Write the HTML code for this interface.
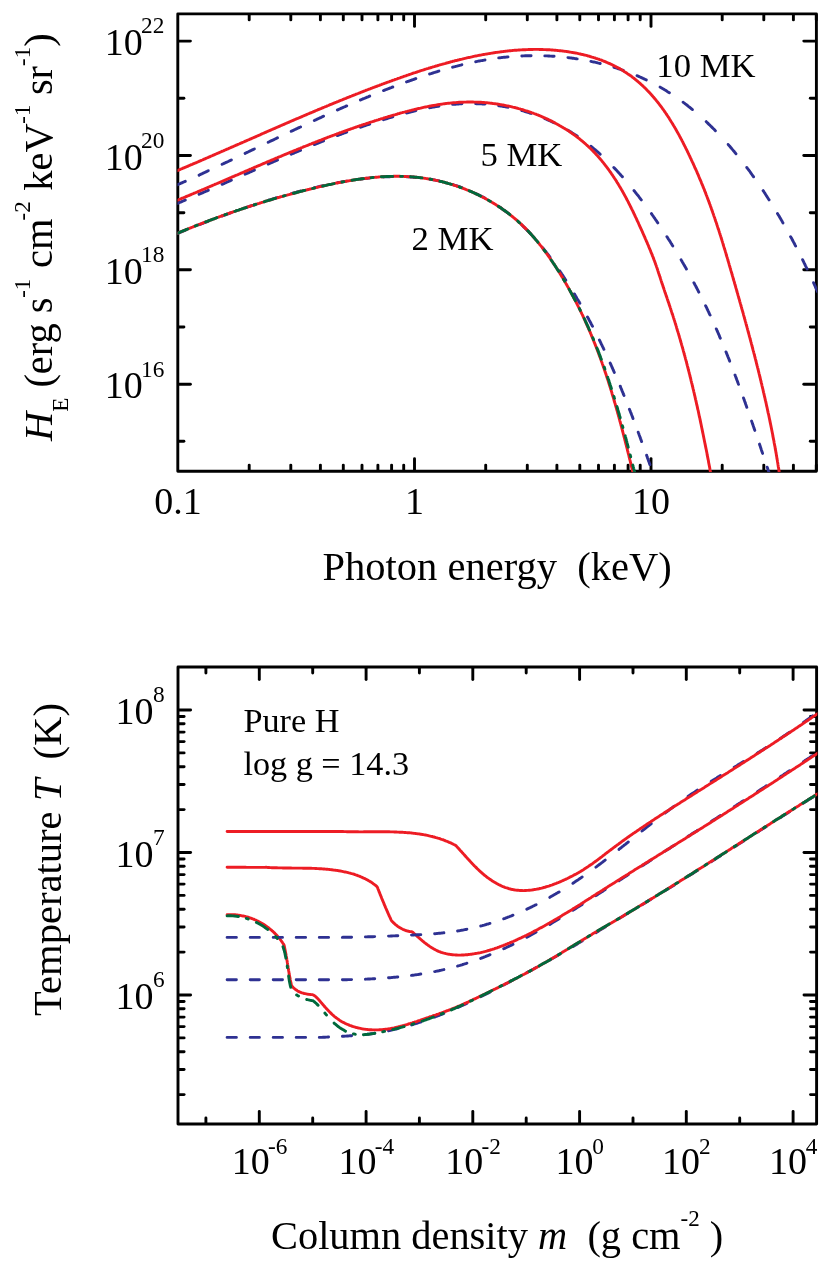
<!DOCTYPE html>
<html><head><meta charset="utf-8"><title>figure</title>
<style>
html,body{margin:0;padding:0;background:#fff;}
body{width:830px;height:1262px;overflow:hidden;}
svg{display:block;position:absolute;left:0;top:0;will-change:transform;}
text{font-family:"Liberation Serif",serif;fill:#000;}
</style></head><body>
<svg width="830" height="1262" viewBox="0 0 830 1262">
<rect x="0" y="0" width="830" height="1262" fill="#fff"/>
<clipPath id="c1"><rect x="177.5" y="13.049999999999999" width="639.6999999999999" height="459.0"/></clipPath>
<rect x="177.8" y="13.85" width="638.5999999999999" height="457.4" fill="none" stroke="#000" stroke-width="2.9" stroke-linejoin="round"/>
<line x1="249.2" y1="470.1" x2="249.2" y2="465.1" stroke="#000" stroke-width="2.9" stroke-linecap="round"/>
<line x1="249.2" y1="15" x2="249.2" y2="19.9" stroke="#000" stroke-width="2.9" stroke-linecap="round"/>
<line x1="290.8" y1="470.1" x2="290.8" y2="465.1" stroke="#000" stroke-width="2.9" stroke-linecap="round"/>
<line x1="290.8" y1="15" x2="290.8" y2="19.9" stroke="#000" stroke-width="2.9" stroke-linecap="round"/>
<line x1="320.4" y1="470.1" x2="320.4" y2="465.1" stroke="#000" stroke-width="2.9" stroke-linecap="round"/>
<line x1="320.4" y1="15" x2="320.4" y2="19.9" stroke="#000" stroke-width="2.9" stroke-linecap="round"/>
<line x1="343.3" y1="470.1" x2="343.3" y2="465.1" stroke="#000" stroke-width="2.9" stroke-linecap="round"/>
<line x1="343.3" y1="15" x2="343.3" y2="19.9" stroke="#000" stroke-width="2.9" stroke-linecap="round"/>
<line x1="362" y1="470.1" x2="362" y2="465.1" stroke="#000" stroke-width="2.9" stroke-linecap="round"/>
<line x1="362" y1="15" x2="362" y2="19.9" stroke="#000" stroke-width="2.9" stroke-linecap="round"/>
<line x1="377.9" y1="470.1" x2="377.9" y2="465.1" stroke="#000" stroke-width="2.9" stroke-linecap="round"/>
<line x1="377.9" y1="15" x2="377.9" y2="19.9" stroke="#000" stroke-width="2.9" stroke-linecap="round"/>
<line x1="391.6" y1="470.1" x2="391.6" y2="465.1" stroke="#000" stroke-width="2.9" stroke-linecap="round"/>
<line x1="391.6" y1="15" x2="391.6" y2="19.9" stroke="#000" stroke-width="2.9" stroke-linecap="round"/>
<line x1="403.7" y1="470.1" x2="403.7" y2="465.1" stroke="#000" stroke-width="2.9" stroke-linecap="round"/>
<line x1="403.7" y1="15" x2="403.7" y2="19.9" stroke="#000" stroke-width="2.9" stroke-linecap="round"/>
<line x1="414.5" y1="470.1" x2="414.5" y2="458.6" stroke="#000" stroke-width="2.9" stroke-linecap="round"/>
<line x1="414.5" y1="15" x2="414.5" y2="26.4" stroke="#000" stroke-width="2.9" stroke-linecap="round"/>
<line x1="485.7" y1="470.1" x2="485.7" y2="465.1" stroke="#000" stroke-width="2.9" stroke-linecap="round"/>
<line x1="485.7" y1="15" x2="485.7" y2="19.9" stroke="#000" stroke-width="2.9" stroke-linecap="round"/>
<line x1="527.3" y1="470.1" x2="527.3" y2="465.1" stroke="#000" stroke-width="2.9" stroke-linecap="round"/>
<line x1="527.3" y1="15" x2="527.3" y2="19.9" stroke="#000" stroke-width="2.9" stroke-linecap="round"/>
<line x1="556.9" y1="470.1" x2="556.9" y2="465.1" stroke="#000" stroke-width="2.9" stroke-linecap="round"/>
<line x1="556.9" y1="15" x2="556.9" y2="19.9" stroke="#000" stroke-width="2.9" stroke-linecap="round"/>
<line x1="579.8" y1="470.1" x2="579.8" y2="465.1" stroke="#000" stroke-width="2.9" stroke-linecap="round"/>
<line x1="579.8" y1="15" x2="579.8" y2="19.9" stroke="#000" stroke-width="2.9" stroke-linecap="round"/>
<line x1="598.5" y1="470.1" x2="598.5" y2="465.1" stroke="#000" stroke-width="2.9" stroke-linecap="round"/>
<line x1="598.5" y1="15" x2="598.5" y2="19.9" stroke="#000" stroke-width="2.9" stroke-linecap="round"/>
<line x1="614.4" y1="470.1" x2="614.4" y2="465.1" stroke="#000" stroke-width="2.9" stroke-linecap="round"/>
<line x1="614.4" y1="15" x2="614.4" y2="19.9" stroke="#000" stroke-width="2.9" stroke-linecap="round"/>
<line x1="628.1" y1="470.1" x2="628.1" y2="465.1" stroke="#000" stroke-width="2.9" stroke-linecap="round"/>
<line x1="628.1" y1="15" x2="628.1" y2="19.9" stroke="#000" stroke-width="2.9" stroke-linecap="round"/>
<line x1="640.2" y1="470.1" x2="640.2" y2="465.1" stroke="#000" stroke-width="2.9" stroke-linecap="round"/>
<line x1="640.2" y1="15" x2="640.2" y2="19.9" stroke="#000" stroke-width="2.9" stroke-linecap="round"/>
<line x1="651" y1="470.1" x2="651" y2="458.6" stroke="#000" stroke-width="2.9" stroke-linecap="round"/>
<line x1="651" y1="15" x2="651" y2="26.4" stroke="#000" stroke-width="2.9" stroke-linecap="round"/>
<line x1="722.2" y1="470.1" x2="722.2" y2="465.1" stroke="#000" stroke-width="2.9" stroke-linecap="round"/>
<line x1="722.2" y1="15" x2="722.2" y2="19.9" stroke="#000" stroke-width="2.9" stroke-linecap="round"/>
<line x1="763.8" y1="470.1" x2="763.8" y2="465.1" stroke="#000" stroke-width="2.9" stroke-linecap="round"/>
<line x1="763.8" y1="15" x2="763.8" y2="19.9" stroke="#000" stroke-width="2.9" stroke-linecap="round"/>
<line x1="793.4" y1="470.1" x2="793.4" y2="465.1" stroke="#000" stroke-width="2.9" stroke-linecap="round"/>
<line x1="793.4" y1="15" x2="793.4" y2="19.9" stroke="#000" stroke-width="2.9" stroke-linecap="round"/>
<line x1="816.3" y1="470.1" x2="816.3" y2="465.1" stroke="#000" stroke-width="2.9" stroke-linecap="round"/>
<line x1="816.3" y1="15" x2="816.3" y2="19.9" stroke="#000" stroke-width="2.9" stroke-linecap="round"/>
<line x1="179" y1="441.3" x2="183.9" y2="441.3" stroke="#000" stroke-width="2.9" stroke-linecap="round"/>
<line x1="815.2" y1="441.3" x2="810.3" y2="441.3" stroke="#000" stroke-width="2.9" stroke-linecap="round"/>
<line x1="179" y1="384.2" x2="190.4" y2="384.2" stroke="#000" stroke-width="2.9" stroke-linecap="round"/>
<line x1="815.2" y1="384.2" x2="803.8" y2="384.2" stroke="#000" stroke-width="2.9" stroke-linecap="round"/>
<line x1="179" y1="327" x2="183.9" y2="327" stroke="#000" stroke-width="2.9" stroke-linecap="round"/>
<line x1="815.2" y1="327" x2="810.3" y2="327" stroke="#000" stroke-width="2.9" stroke-linecap="round"/>
<line x1="179" y1="269.8" x2="190.4" y2="269.8" stroke="#000" stroke-width="2.9" stroke-linecap="round"/>
<line x1="815.2" y1="269.8" x2="803.8" y2="269.8" stroke="#000" stroke-width="2.9" stroke-linecap="round"/>
<line x1="179" y1="212.7" x2="183.9" y2="212.7" stroke="#000" stroke-width="2.9" stroke-linecap="round"/>
<line x1="815.2" y1="212.7" x2="810.3" y2="212.7" stroke="#000" stroke-width="2.9" stroke-linecap="round"/>
<line x1="179" y1="155.5" x2="190.4" y2="155.5" stroke="#000" stroke-width="2.9" stroke-linecap="round"/>
<line x1="815.2" y1="155.5" x2="803.8" y2="155.5" stroke="#000" stroke-width="2.9" stroke-linecap="round"/>
<line x1="179" y1="98.3" x2="183.9" y2="98.3" stroke="#000" stroke-width="2.9" stroke-linecap="round"/>
<line x1="815.2" y1="98.3" x2="810.3" y2="98.3" stroke="#000" stroke-width="2.9" stroke-linecap="round"/>
<line x1="179" y1="41.1" x2="190.4" y2="41.1" stroke="#000" stroke-width="2.9" stroke-linecap="round"/>
<line x1="815.2" y1="41.1" x2="803.8" y2="41.1" stroke="#000" stroke-width="2.9" stroke-linecap="round"/>
<path d="M160 240.6 L160.8 240.2 L161.8 239.8 L162.2 239.6 M176 233.9 L176.7 233.6 L177.7 233.3 L178.6 232.9 L179.5 232.5 L180.5 232.1 L181.4 231.8 L182.3 231.4 L183.3 231 L184.2 230.6 L185.1 230.2 L185.3 230.2 M199.1 224.7 L199.1 224.7 L200.1 224.3 L201 224 L201.9 223.6 L202.8 223.3 L203.8 222.9 L204.7 222.5 L205.6 222.2 L206.6 221.8 L207.5 221.5 L208.3 221.1 M222.1 216 L222.4 215.9 L223.4 215.5 L224.3 215.2 L225.2 214.8 L226.2 214.5 L227.1 214.2 L228 213.8 L229 213.5 L229.9 213.1 L230.8 212.8 L231.4 212.6 M245.1 207.8 L245.8 207.6 L246.8 207.3 L247.7 206.9 L248.7 206.6 L249.6 206.3 L250.5 206 L251.5 205.7 L252.4 205.4 L253.4 205.1 L254.3 204.8 L254.4 204.7 M268.2 200.3 L268.5 200.2 L269.4 199.9 L270.4 199.7 L271.4 199.4 L272.3 199.1 L273.3 198.8 L274.2 198.5 L275.2 198.2 L276.1 197.9 L277.1 197.7 L277.5 197.5 M291.2 193.6 L291.5 193.6 L292.4 193.3 L293.4 193 L294.3 192.8 L295.3 192.5 L296.3 192.3 L297.2 192 L298.2 191.7 L299.2 191.5 L300.2 191.2 L300.6 191.1 M314.3 187.7 L314.8 187.6 L315.8 187.4 L316.8 187.2 L317.7 186.9 L318.7 186.7 L319.7 186.5 L320.7 186.2 L321.7 186 L322.7 185.8 L323.6 185.6 M337.4 182.8 L337.5 182.7 L338.5 182.5 L339.5 182.4 L340.5 182.2 L341.5 182 L342.5 181.8 L343.5 181.6 L344.5 181.5 L345.5 181.3 L346.5 181.1 L346.7 181.1 M360.4 179 L360.6 179 L361.6 178.9 L362.6 178.8 L363.6 178.6 L364.6 178.5 L365.6 178.4 L366.6 178.3 L367.6 178.2 L368.6 178.1 L369.6 178 L369.7 178 M383.5 176.9 L383.7 176.9 L384.7 176.8 L385.7 176.8 L386.7 176.8 L387.7 176.7 L388.7 176.7 L389.7 176.7 L390.7 176.6 L391.7 176.6 L392.7 176.6 L392.8 176.6 M406.5 176.8 L406.6 176.8 L407.6 176.8 L408.6 176.9 L409.6 176.9 L410.6 177 L411.6 177.1 L412.6 177.1 L413.6 177.2 L414.6 177.3 L415.6 177.4 L415.8 177.4 M429.6 179.1 L430.3 179.2 L431.3 179.4 L432.3 179.6 L433.2 179.7 L434.2 179.9 L435.2 180.1 L436.2 180.3 L437.1 180.5 L438.1 180.7 L438.9 180.9 M452.6 184.5 L453.5 184.8 L454.4 185.1 L455.4 185.4 L456.3 185.7 L457.3 186 L458.2 186.3 L459.1 186.7 L460.1 187 L461 187.3 L461.9 187.7 M475.7 193.5 L475.8 193.5 L476.7 194 L477.6 194.4 L478.5 194.8 L479.4 195.3 L480.3 195.7 L481.2 196.2 L482 196.6 L482.9 197.1 L483.8 197.6 L484.7 198.1 L485 198.2 M498.7 206.5 L499.3 206.9 L500.1 207.5 L500.9 208 L501.7 208.6 L502.5 209.2 L503.4 209.8 L504.2 210.3 L505 210.9 L505.8 211.5 L506.6 212.1 L507.4 212.7 L508 213.2 M521.8 224.9 L521.8 225 L522.6 225.7 L523.3 226.4 L524 227.1 L524.7 227.8 L525.4 228.5 L526.1 229.2 L526.8 229.9 L527.5 230.6 L528.2 231.3 L528.9 232 L529.6 232.7 L530.3 233.5 L530.9 234.1 M542.8 247.8 L543.4 248.6 L544 249.4 L544.6 250.2 L545.2 250.9 L545.9 251.7 L546.5 252.5 L547.1 253.3 L547.7 254.1 L548.3 254.9 L548.9 255.7 L549.5 256.5 L550 257.1 M559.7 270.9 L560 271.3 L560.5 272.1 L561.1 272.9 L561.6 273.8 L562.2 274.6 L562.7 275.4 L563.3 276.3 L563.8 277.1 L564.4 277.9 L564.9 278.8 L565.5 279.6 L565.8 280.2 M574.4 293.9 L574.5 294.1 L575 294.9 L575.5 295.8 L576 296.6 L576.5 297.5 L577 298.4 L577.5 299.2 L578.1 300.1 L578.6 301 L579.1 301.8 L579.6 302.7 L579.9 303.2 M587.5 317 L587.8 317.5 L588.3 318.4 L588.8 319.3 L589.2 320.2 L589.7 321 L590.2 321.9 L590.7 322.8 L591.1 323.7 L591.6 324.6 L592 325.5 L592.5 326.3 M599.4 340 L599.7 340.6 L600.1 341.5 L600.6 342.4 L601 343.3 L601.4 344.2 L601.9 345.1 L602.3 346 L602.7 346.9 L603.2 347.8 L603.6 348.7 L603.9 349.3 M610.2 363.1 L610.3 363.3 L610.7 364.2 L611.1 365.1 L611.5 366 L611.9 366.9 L612.3 367.8 L612.7 368.7 L613.1 369.7 L613.5 370.6 L613.9 371.5 L614.3 372.4 M620.2 386.1 L620.2 386.2 L620.6 387.1 L621 388.1 L621.4 389 L621.7 389.9 L622.1 390.9 L622.5 391.8 L622.9 392.7 L623.2 393.6 L623.6 394.6 L624 395.4 M629.4 409.2 L629.5 409.4 L629.9 410.4 L630.3 411.3 L630.6 412.2 L631 413.2 L631.4 414.1 L631.7 415 L632.1 416 L632.4 416.9 L632.8 417.8 L633 418.5 M638.2 432.2 L638.4 432.8 L638.8 433.8 L639.1 434.7 L639.5 435.7 L639.8 436.6 L640.2 437.5 L640.5 438.5 L640.8 439.4 L641.2 440.4 L641.5 441.3 L641.6 441.5 M646.6 455.3 L646.6 455.4 L647 456.3 L647.3 457.3 L647.6 458.2 L648 459.2 L648.3 460.1 L648.6 461.1 L649 462 L649.3 462.9 L649.6 463.9 L649.9 464.6 M654.7 478.3 L654.9 478.9 L655 480" fill="none" stroke="#2e3192" stroke-width="2.9" stroke-linejoin="round" stroke-linecap="round" clip-path="url(#c1)"/>
<path d="M160 240.6 L160.9 240.3 L161.8 239.9 L162.7 239.5 L163.7 239.1 L164.6 238.7 L165.5 238.3 L166.5 237.9 L167.4 237.5 L168.3 237.1 L169.3 236.7 L170.2 236.3 L171.1 235.9 L172 235.5 L173 235.1 L173.9 234.7 L174.8 234.3 L175.8 233.9 L176.7 233.5 L177.6 233.2 L178.6 232.8 L179.5 232.4 L180.4 232 L181.3 231.6 L182.3 231.2 L183.2 230.8 L184.1 230.5 L185.1 230.1 L186 229.7 L186.9 229.3 L187.9 228.9 L188.8 228.6 L189.7 228.2 L190.7 227.8 L191.6 227.4 L192.5 227.1 L193.5 226.7 L194.4 226.3 L195.3 226 L196.2 225.6 L197.2 225.2 L198.1 224.9 L199 224.5 L200 224.1 L200.9 223.8 L201.8 223.4 L202.8 223 L203.7 222.7 L204.6 222.3 L205.6 222 L206.5 221.6 L207.4 221.3 L208.4 220.9 L209.3 220.5 L210.2 220.2 L211.2 219.8 L212.1 219.5 L213 219.1 L214 218.8 L214.9 218.4 L215.8 218.1 L216.8 217.7 L217.7 217.4 L218.7 217.1 L219.6 216.7 L220.5 216.4 L221.5 216 L222.4 215.7 L223.3 215.4 L224.3 215 L225.2 214.7 L226.1 214.3 L227.1 214 L228 213.7 L229 213.3 L229.9 213 L230.8 212.7 L231.8 212.4 L232.7 212 L233.7 211.7 L234.6 211.4 L235.5 211.1 L236.5 210.7 L237.4 210.4 L238.4 210.1 L239.3 209.8 L240.2 209.4 L241.2 209.1 L242.1 208.8 L243.1 208.5 L244 208.2 L245 207.9 L245.9 207.6 L246.8 207.2 L247.8 206.9 L248.7 206.6 L249.7 206.3 L250.6 206 L251.6 205.7 L252.5 205.4 L253.5 205.1 L254.4 204.8 L255.4 204.5 L256.3 204.2 L257.3 203.9 L258.2 203.6 L259.2 203.3 L260.1 203 L261.1 202.7 L262 202.4 L263 202.1 L263.9 201.8 L264.9 201.5 L265.8 201.2 L266.8 200.9 L267.7 200.6 L268.7 200.4 L269.6 200.1 L270.6 199.8 L271.5 199.5 L272.5 199.2 L273.4 198.9 L274.4 198.7 L275.4 198.4 L276.3 198.1 L277.3 197.8 L278.2 197.5 L279.2 197.3 L280.1 197 L281.1 196.7 L282.1 196.5 L283 196.2 L284 195.9 L284.9 195.6 L285.9 195.4 L286.9 195.1 L287.8 194.8 L288.8 194.6 L289.8 194.3 L290.7 194.1 L291.7 193.8 L292.7 193.5 L293.6 193.3 L294.6 193 L295.6 192.8 L296.5 192.5 L297.5 192.2 L298.5 192 L299.4 191.7 L300.4 191.5 L301.4 191.2 L302.4 191 L303.3 190.7 L304.3 190.5 L305.3 190.3 L306.2 190 L307.2 189.8 L308.2 189.5 L309.2 189.3 L310.2 189 L311.1 188.8 L312.1 188.6 L313.1 188.3 L314.1 188.1 L315 187.9 L316 187.6 L317 187.4 L318 187.2 L319 186.9 L320 186.7 L320.9 186.5 L321.9 186.2 L322.9 186 L323.9 185.8 L324.9 185.6 L325.9 185.4 L326.9 185.1 L327.8 184.9 L328.8 184.7 L329.8 184.5 L330.8 184.3 L331.8 184.1 L332.8 183.9 L333.8 183.7 L334.8 183.4 L335.8 183.2 L336.8 183 L337.8 182.8 L338.7 182.7 L339.7 182.5 L340.7 182.3 L341.7 182.1 L342.7 181.9 L343.7 181.7 L344.7 181.5 L345.7 181.3 L346.7 181.2 L347.7 181 L348.7 180.8 L349.7 180.6 L350.7 180.5 L351.7 180.3 L352.7 180.2 L353.7 180 L354.7 179.8 L355.7 179.7 L356.7 179.5 L357.7 179.4 L358.7 179.2 L359.7 179.1 L360.7 179 L361.7 178.8 L362.7 178.7 L363.7 178.6 L364.7 178.4 L365.7 178.3 L366.7 178.2 L367.7 178.1 L368.7 178 L369.7 177.8 L370.7 177.7 L371.7 177.6 L372.7 177.5 L373.7 177.4 L374.7 177.4 L375.7 177.3 L376.7 177.2 L377.7 177.1 L378.7 177 L379.7 176.9 L380.7 176.9 L381.7 176.8 L382.7 176.7 L383.7 176.7 L384.7 176.6 L385.7 176.6 L386.7 176.5 L387.7 176.5 L388.7 176.5 L389.7 176.4 L390.7 176.4 L391.7 176.4 L392.7 176.4 L393.7 176.3 L394.7 176.3 L395.7 176.3 L396.7 176.3 L397.7 176.3 L398.7 176.3 L399.7 176.3 L400.7 176.4 L401.6 176.4 L402.6 176.4 L403.6 176.4 L404.6 176.5 L405.6 176.5 L406.6 176.6 L407.6 176.6 L408.6 176.7 L409.6 176.7 L410.6 176.8 L411.6 176.9 L412.6 176.9 L413.6 177 L414.6 177.1 L415.6 177.2 L416.6 177.3 L417.5 177.4 L418.5 177.5 L419.5 177.6 L420.5 177.7 L421.5 177.9 L422.5 178 L423.5 178.1 L424.5 178.3 L425.4 178.4 L426.4 178.6 L427.4 178.7 L428.4 178.9 L429.4 179.1 L430.4 179.2 L431.3 179.4 L432.3 179.6 L433.3 179.8 L434.3 180 L435.3 180.2 L436.2 180.4 L437.2 180.6 L438.2 180.8 L439.2 181 L440.1 181.3 L441.1 181.5 L442.1 181.7 L443 182 L444 182.2 L445 182.5 L445.9 182.8 L446.9 183 L447.9 183.3 L448.8 183.6 L449.8 183.8 L450.7 184.1 L451.7 184.4 L452.7 184.7 L453.6 185 L454.6 185.3 L455.5 185.6 L456.5 186 L457.4 186.3 L458.4 186.6 L459.3 186.9 L460.2 187.3 L461.2 187.6 L462.1 188 L463.1 188.3 L464 188.7 L464.9 189 L465.8 189.4 L466.8 189.8 L467.7 190.1 L468.6 190.5 L469.5 190.9 L470.5 191.3 L471.4 191.7 L472.3 192.1 L473.2 192.5 L474.1 192.9 L475 193.3 L475.9 193.8 L476.8 194.2 L477.7 194.6 L478.6 195.1 L479.5 195.5 L480.4 196 L481.3 196.4 L482.2 196.9 L483.1 197.3 L484 197.8 L484.9 198.3 L485.7 198.7 L486.6 199.2 L487.5 199.7 L488.4 200.2 L489.2 200.7 L490.1 201.2 L491 201.7 L491.8 202.2 L492.7 202.7 L493.5 203.2 L494.4 203.8 L495.2 204.3 L496.1 204.8 L496.9 205.4 L497.8 205.9 L498.6 206.5 L499.4 207 L500.3 207.6 L501.1 208.1 L501.9 208.7 L502.7 209.3 L503.5 209.9 L504.4 210.4 L505.2 211 L506 211.6 L506.8 212.2 L507.6 212.8 L508.4 213.4 L509.2 214 L510 214.6 L510.7 215.3 L511.5 215.9 L512.3 216.5 L513.1 217.1 L513.8 217.8 L514.6 218.4 L515.4 219.1 L516.1 219.7 L516.9 220.4 L517.6 221 L518.4 221.7 L519.1 222.4 L519.9 223 L520.6 223.7 L521.4 224.4 L522.1 225.1 L522.8 225.8 L523.5 226.5 L524.2 227.1 L525 227.9 L525.7 228.6 L526.4 229.3 L527.1 230 L527.8 230.7 L528.5 231.4 L529.1 232.2 L529.8 232.9 L530.5 233.6 L531.2 234.4 L531.8 235.1 L532.5 235.9 L533.2 236.6 L533.8 237.4 L534.5 238.1 L535.1 238.9 L535.8 239.7 L536.4 240.4 L537.1 241.2 L537.7 242 L538.4 242.8 L539 243.5 L539.6 244.3 L540.2 245.1 L540.9 245.9 L541.5 246.7 L542.1 247.5 L542.7 248.3 L543.3 249.1 L543.9 249.9 L544.5 250.7 L545.1 251.5 L545.7 252.3 L546.3 253.1 L546.9 253.9 L547.5 254.7 L548.1 255.6 L548.7 256.4 L549.2 257.2 L549.8 258 L550.4 258.9 L551 259.7 L551.5 260.5 L552.1 261.3 L552.7 262.2 L553.2 263 L553.8 263.8 L554.3 264.7 L554.9 265.5 L555.4 266.4 L556 267.2 L556.5 268 L557.1 268.9 L557.6 269.7 L558.1 270.6 L558.7 271.4 L559.2 272.3 L559.7 273.1 L560.3 274 L560.8 274.9 L561.3 275.7 L561.8 276.6 L562.4 277.4 L562.9 278.3 L563.4 279.1 L563.9 280 L564.4 280.9 L564.9 281.7 L565.4 282.6 L565.9 283.5 L566.4 284.3 L566.9 285.2 L567.4 286.1 L567.9 287 L568.4 287.8 L568.9 288.7 L569.4 289.6 L569.8 290.4 L570.3 291.3 L570.8 292.2 L571.3 293.1 L571.8 294 L572.2 294.8 L572.7 295.7 L573.2 296.6 L573.6 297.5 L574.1 298.4 L574.6 299.2 L575 300.1 L575.5 301 L575.9 301.9 L576.4 302.8 L576.9 303.7 L577.3 304.6 L577.8 305.5 L578.2 306.4 L578.6 307.2 L579.1 308.1 L579.5 309 L580 309.9 L580.4 310.8 L580.8 311.7 L581.3 312.6 L581.7 313.5 L582.1 314.4 L582.6 315.3 L583 316.2 L583.4 317.1 L583.8 318 L584.2 318.9 L584.7 319.8 L585.1 320.8 L585.5 321.7 L585.9 322.6 L586.3 323.5 L586.7 324.4 L587.1 325.3 L587.5 326.2 L587.9 327.1 L588.3 328 L588.7 329 L589.1 329.9 L589.5 330.8 L589.9 331.7 L590.3 332.6 L590.7 333.6 L591.1 334.5 L591.4 335.4 L591.8 336.3 L592.2 337.2 L592.6 338.2 L593 339.1 L593.3 340 L593.7 340.9 L594.1 341.9 L594.5 342.8 L594.8 343.7 L595.2 344.6 L595.6 345.6 L595.9 346.5 L596.3 347.4 L596.7 348.4 L597 349.3 L597.4 350.2 L597.7 351.2 L598.1 352.1 L598.4 353 L598.8 354 L599.1 354.9 L599.5 355.9 L599.8 356.8 L600.2 357.7 L600.5 358.7 L600.9 359.6 L601.2 360.6 L601.5 361.5 L601.9 362.4 L602.2 363.4 L602.5 364.3 L602.9 365.3 L603.2 366.2 L603.5 367.2 L603.9 368.1 L604.2 369 L604.5 370 L604.8 370.9 L605.1 371.9 L605.5 372.8 L605.8 373.8 L606.1 374.7 L606.4 375.7 L606.7 376.6 L607 377.6 L607.4 378.5 L607.7 379.5 L608 380.4 L608.3 381.4 L608.6 382.3 L608.9 383.3 L609.2 384.3 L609.5 385.2 L609.8 386.2 L610.1 387.1 L610.4 388.1 L610.7 389 L611 390 L611.3 390.9 L611.6 391.9 L611.9 392.9 L612.1 393.8 L612.4 394.8 L612.7 395.7 L613 396.7 L613.3 397.7 L613.6 398.6 L613.9 399.6 L614.1 400.5 L614.4 401.5 L614.7 402.5 L615 403.4 L615.3 404.4 L615.5 405.4 L615.8 406.3 L616.1 407.3 L616.4 408.2 L616.6 409.2 L616.9 410.2 L617.2 411.1 L617.5 412.1 L617.7 413.1 L618 414 L618.3 415 L618.5 416 L618.8 416.9 L619.1 417.9 L619.3 418.9 L619.6 419.8 L619.8 420.8 L620.1 421.8 L620.4 422.7 L620.6 423.7 L620.9 424.7 L621.1 425.6 L621.4 426.6 L621.7 427.6 L621.9 428.5 L622.2 429.5 L622.4 430.5 L622.7 431.5 L622.9 432.4 L623.2 433.4 L623.4 434.4 L623.7 435.3 L623.9 436.3 L624.2 437.3 L624.4 438.2 L624.7 439.2 L624.9 440.2 L625.2 441.2 L625.4 442.1 L625.7 443.1 L625.9 444.1 L626.2 445 L626.4 446 L626.7 447 L626.9 447.9 L627.2 448.9 L627.4 449.9 L627.6 450.9 L627.9 451.8 L628.1 452.8 L628.4 453.8 L628.6 454.7 L628.9 455.7 L629.1 456.7 L629.3 457.7 L629.6 458.6 L629.8 459.6 L630.1 460.6 L630.3 461.5 L630.5 462.5 L630.8 463.5 L631 464.5 L631.2 465.4 L631.5 466.4 L631.7 467.4 L632 468.3 L632.2 469.3 L632.4 470.3 L632.7 471.3 L632.9 472.2 L633.1 473.2 L633.4 474.2 L633.6 475.1 L633.9 476.1 L634.1 477.1 L634.3 478 L634.6 479 L634.8 480" fill="none" stroke="#ed1c24" stroke-width="2.9" stroke-linejoin="round" stroke-linecap="butt" clip-path="url(#c1)"/>
<path d="M160 210.5 L160.9 210 L161.8 209.7 L162.2 209.5 M176 204 L176.7 203.7 L177.6 203.3 L178.5 202.9 L179.4 202.5 L180.4 202.2 L181.3 201.8 L182.2 201.4 L183.1 201 L184 200.6 L185 200.2 L185.3 200.1 M199.1 194.3 L199.7 194 L200.6 193.6 L201.6 193.2 L202.5 192.8 L203.4 192.4 L204.3 192 L205.2 191.6 L206.1 191.2 L207.1 190.8 L208 190.4 L208.3 190.3 M222.1 184.3 L222.7 184.1 L223.6 183.7 L224.5 183.3 L225.4 182.8 L226.4 182.4 L227.3 182 L228.2 181.6 L229.1 181.2 L230 180.8 L230.9 180.4 L231.4 180.2 M245.1 174.2 L245.6 174 L246.5 173.6 L247.5 173.2 L248.4 172.8 L249.3 172.4 L250.2 172 L251.1 171.6 L252 171.2 L253 170.7 L253.9 170.3 L254.4 170.1 M268.2 164.1 L268.6 163.9 L269.5 163.5 L270.4 163.1 L271.3 162.7 L272.2 162.3 L273.2 161.9 L274.1 161.5 L275 161.1 L275.9 160.7 L276.8 160.3 L277.5 160 M291.2 154.2 L291.6 154 L292.5 153.6 L293.4 153.3 L294.3 152.9 L295.3 152.5 L296.2 152.1 L297.1 151.7 L298 151.3 L299 150.9 L299.9 150.5 L300.6 150.3 M314.3 144.6 L314.7 144.5 L315.6 144.1 L316.6 143.7 L317.5 143.3 L318.4 143 L319.4 142.6 L320.3 142.2 L321.2 141.9 L322.1 141.5 L323.1 141.1 L323.6 140.9 M337.4 135.6 L338 135.3 L338.9 135 L339.9 134.6 L340.8 134.3 L341.7 133.9 L342.7 133.6 L343.6 133.2 L344.6 132.9 L345.5 132.6 L346.4 132.2 L346.7 132.1 M360.4 127.2 L360.6 127.2 L361.5 126.8 L362.5 126.5 L363.4 126.2 L364.4 125.9 L365.3 125.6 L366.2 125.2 L367.2 124.9 L368.1 124.6 L369.1 124.3 L369.7 124.1 M383.5 119.7 L384.3 119.4 L385.3 119.1 L386.2 118.8 L387.2 118.5 L388.2 118.2 L389.1 117.9 L390.1 117.7 L391 117.4 L392 117.1 L392.8 116.9 M406.5 113 L407.4 112.8 L408.4 112.5 L409.4 112.3 L410.3 112 L411.3 111.8 L412.3 111.6 L413.3 111.3 L414.2 111.1 L415.2 110.9 L415.8 110.7 M429.6 107.8 L429.9 107.7 L430.8 107.5 L431.8 107.3 L432.8 107.1 L433.8 107 L434.8 106.8 L435.8 106.6 L436.7 106.5 L437.7 106.3 L438.7 106.2 L438.9 106.1 M452.6 104.4 L453.6 104.3 L454.5 104.2 L455.5 104.2 L456.5 104.1 L457.5 104 L458.5 104 L459.5 103.9 L460.5 103.8 L461.5 103.8 L461.9 103.8 M475.7 103.6 L476.5 103.7 L477.5 103.7 L478.5 103.7 L479.5 103.8 L480.5 103.8 L481.5 103.9 L482.5 104 L483.5 104 L484.5 104.1 L485 104.1 M498.7 105.7 L499.5 105.8 L500.5 106 L501.5 106.1 L502.5 106.3 L503.5 106.5 L504.5 106.6 L505.5 106.8 L506.5 107 L507.5 107.2 L508 107.3 M521.8 110.6 L522.1 110.7 L523.1 110.9 L524.1 111.2 L525 111.5 L526 111.8 L527 112.1 L527.9 112.4 L528.9 112.7 L529.8 113 L530.8 113.3 L531.1 113.4 M544.8 118.6 L544.8 118.6 L545.7 119 L546.7 119.4 L547.6 119.8 L548.5 120.2 L549.4 120.6 L550.3 121 L551.2 121.4 L552.1 121.8 L553 122.3 L553.9 122.7 L554.1 122.8 M567.9 130.2 L567.9 130.3 L568.8 130.8 L569.6 131.3 L570.5 131.8 L571.3 132.3 L572.2 132.9 L573 133.4 L573.8 133.9 L574.7 134.5 L575.5 135 L576.3 135.6 L577.2 136.1 M590.9 146.3 L591.6 146.8 L592.4 147.5 L593.2 148.1 L593.9 148.8 L594.7 149.4 L595.5 150 L596.2 150.7 L597 151.4 L597.8 152 L598.5 152.7 L599.3 153.4 L600 154 L600.2 154.2 M613.8 167.5 L614.4 168.1 L615.1 168.8 L615.8 169.6 L616.5 170.3 L617.2 171 L617.8 171.8 L618.5 172.5 L619.2 173.3 L619.9 174 L620.5 174.7 L621.2 175.5 L621.9 176.2 L622.4 176.8 M634 190.6 L634.1 190.7 L634.8 191.5 L635.4 192.3 L636 193.1 L636.6 193.9 L637.3 194.7 L637.9 195.4 L638.5 196.2 L639.1 197 L639.7 197.8 L640.3 198.6 L640.9 199.4 L641.3 199.9 M651.4 213.6 L651.5 213.9 L652.1 214.7 L652.7 215.5 L653.3 216.3 L653.8 217.1 L654.4 217.9 L655 218.8 L655.5 219.6 L656.1 220.4 L656.7 221.2 L657.2 222.1 L657.8 222.9 L657.8 222.9 M666.9 236.7 L667.2 237.1 L667.7 237.9 L668.2 238.8 L668.8 239.6 L669.3 240.4 L669.9 241.3 L670.4 242.1 L670.9 243 L671.5 243.8 L672 244.7 L672.5 245.5 L672.8 246 M681.1 259.7 L681.3 260.1 L681.8 261 L682.3 261.9 L682.8 262.7 L683.3 263.6 L683.8 264.5 L684.3 265.3 L684.8 266.2 L685.3 267.1 L685.8 267.9 L686.3 268.8 L686.4 269 M693.9 282.8 L694 282.9 L694.5 283.8 L694.9 284.7 L695.4 285.5 L695.9 286.4 L696.3 287.3 L696.8 288.2 L697.3 289.1 L697.7 290 L698.2 290.9 L698.6 291.8 L698.8 292.1 M705.6 305.8 L705.8 306.1 L706.2 307 L706.7 307.9 L707.1 308.8 L707.5 309.7 L707.9 310.6 L708.4 311.5 L708.8 312.4 L709.2 313.3 L709.6 314.2 L710.1 315.1 M716.3 328.9 L716.7 329.7 L717.1 330.7 L717.5 331.6 L717.9 332.5 L718.3 333.4 L718.7 334.3 L719.1 335.2 L719.4 336.2 L719.8 337.1 L720.2 338 L720.3 338.2 M726 351.9 L726.4 352.8 L726.7 353.7 L727.1 354.6 L727.5 355.5 L727.8 356.5 L728.2 357.4 L728.6 358.3 L729 359.3 L729.3 360.2 L729.7 361.1 L729.7 361.2 M735 375 L735.1 375.1 L735.4 376 L735.8 377 L736.1 377.9 L736.5 378.9 L736.8 379.8 L737.2 380.7 L737.5 381.7 L737.9 382.6 L738.2 383.5 L738.5 384.3 M743.5 398 L743.7 398.6 L744.1 399.5 L744.4 400.5 L744.7 401.4 L745.1 402.3 L745.4 403.3 L745.7 404.2 L746.1 405.2 L746.4 406.1 L746.7 407.1 L746.8 407.3 M751.6 421.1 L751.7 421.2 L752 422.2 L752.3 423.1 L752.6 424.1 L753 425 L753.3 426 L753.6 426.9 L753.9 427.9 L754.3 428.8 L754.6 429.8 L754.8 430.4 M759.5 444.1 L759.7 444.9 L760.1 445.9 L760.4 446.8 L760.7 447.8 L761 448.7 L761.3 449.7 L761.6 450.6 L762 451.6 L762.3 452.5 L762.6 453.4 M767.2 467.2 L767.4 467.7 L767.7 468.6 L768 469.6 L768.3 470.5 L768.7 471.5 L769 472.4 L769.3 473.4 L769.6 474.3 L769.9 475.3 L770.3 476.2 L770.3 476.5" fill="none" stroke="#2e3192" stroke-width="2.9" stroke-linejoin="round" stroke-linecap="round" clip-path="url(#c1)"/>
<path d="M160 207.3 L160.9 206.9 L161.9 206.5 L162.8 206.1 L163.7 205.8 L164.6 205.4 L165.6 205 L166.5 204.7 L167.4 204.3 L168.3 203.9 L169.3 203.5 L170.2 203.2 L171.1 202.8 L172 202.4 L173 202 L173.9 201.7 L174.8 201.3 L175.7 200.9 L176.7 200.5 L177.6 200.1 L178.5 199.8 L179.4 199.4 L180.4 199 L181.3 198.6 L182.2 198.2 L183.1 197.9 L184 197.5 L185 197.1 L185.9 196.7 L186.8 196.3 L187.7 195.9 L188.7 195.6 L189.6 195.2 L190.5 194.8 L191.4 194.4 L192.3 194 L193.3 193.6 L194.2 193.2 L195.1 192.9 L196 192.5 L197 192.1 L197.9 191.7 L198.8 191.3 L199.7 190.9 L200.6 190.5 L201.6 190.1 L202.5 189.7 L203.4 189.4 L204.3 189 L205.2 188.6 L206.2 188.2 L207.1 187.8 L208 187.4 L208.9 187 L209.8 186.6 L210.8 186.2 L211.7 185.8 L212.6 185.4 L213.5 185 L214.5 184.6 L215.4 184.2 L216.3 183.9 L217.2 183.5 L218.1 183.1 L219.1 182.7 L220 182.3 L220.9 181.9 L221.8 181.5 L222.7 181.1 L223.7 180.7 L224.6 180.3 L225.5 179.9 L226.4 179.5 L227.3 179.1 L228.3 178.7 L229.2 178.3 L230.1 177.9 L231 177.5 L231.9 177.1 L232.8 176.7 L233.8 176.3 L234.7 175.9 L235.6 175.5 L236.5 175.1 L237.4 174.8 L238.4 174.4 L239.3 174 L240.2 173.6 L241.1 173.2 L242 172.8 L243 172.4 L243.9 172 L244.8 171.6 L245.7 171.2 L246.6 170.8 L247.6 170.4 L248.5 170 L249.4 169.6 L250.3 169.2 L251.3 168.8 L252.2 168.4 L253.1 168 L254 167.6 L254.9 167.2 L255.9 166.8 L256.8 166.4 L257.7 166 L258.6 165.7 L259.5 165.3 L260.5 164.9 L261.4 164.5 L262.3 164.1 L263.2 163.7 L264.1 163.3 L265.1 162.9 L266 162.5 L266.9 162.1 L267.8 161.7 L268.8 161.3 L269.7 160.9 L270.6 160.6 L271.5 160.2 L272.4 159.8 L273.4 159.4 L274.3 159 L275.2 158.6 L276.1 158.2 L277.1 157.8 L278 157.4 L278.9 157 L279.8 156.7 L280.8 156.3 L281.7 155.9 L282.6 155.5 L283.5 155.1 L284.5 154.7 L285.4 154.3 L286.3 154 L287.2 153.6 L288.2 153.2 L289.1 152.8 L290 152.4 L290.9 152 L291.9 151.7 L292.8 151.3 L293.7 150.9 L294.6 150.5 L295.6 150.1 L296.5 149.8 L297.4 149.4 L298.3 149 L299.3 148.6 L300.2 148.3 L301.1 147.9 L302.1 147.5 L303 147.1 L303.9 146.7 L304.8 146.4 L305.8 146 L306.7 145.6 L307.6 145.3 L308.6 144.9 L309.5 144.5 L310.4 144.1 L311.4 143.8 L312.3 143.4 L313.2 143 L314.1 142.7 L315.1 142.3 L316 141.9 L316.9 141.6 L317.9 141.2 L318.8 140.8 L319.7 140.5 L320.7 140.1 L321.6 139.8 L322.5 139.4 L323.5 139 L324.4 138.7 L325.3 138.3 L326.3 138 L327.2 137.6 L328.1 137.2 L329.1 136.9 L330 136.5 L330.9 136.2 L331.9 135.8 L332.8 135.5 L333.8 135.1 L334.7 134.8 L335.6 134.4 L336.6 134.1 L337.5 133.7 L338.4 133.4 L339.4 133 L340.3 132.7 L341.3 132.4 L342.2 132 L343.1 131.7 L344.1 131.3 L345 131 L346 130.6 L346.9 130.3 L347.8 130 L348.8 129.6 L349.7 129.3 L350.7 129 L351.6 128.6 L352.6 128.3 L353.5 128 L354.5 127.6 L355.4 127.3 L356.3 127 L357.3 126.7 L358.2 126.3 L359.2 126 L360.1 125.7 L361.1 125.4 L362 125 L363 124.7 L363.9 124.4 L364.9 124.1 L365.8 123.8 L366.8 123.5 L367.7 123.1 L368.7 122.8 L369.6 122.5 L370.6 122.2 L371.5 121.9 L372.5 121.6 L373.4 121.3 L374.4 121 L375.3 120.7 L376.3 120.4 L377.2 120.1 L378.2 119.8 L379.1 119.5 L380.1 119.2 L381 118.9 L382 118.6 L383 118.3 L383.9 118 L384.9 117.7 L385.8 117.4 L386.8 117.1 L387.7 116.8 L388.7 116.5 L389.7 116.3 L390.6 116 L391.6 115.7 L392.5 115.4 L393.5 115.1 L394.5 114.8 L395.4 114.6 L396.4 114.3 L397.4 114 L398.3 113.7 L399.3 113.5 L400.2 113.2 L401.2 112.9 L402.2 112.7 L403.1 112.4 L404.1 112.2 L405.1 111.9 L406 111.6 L407 111.4 L408 111.1 L408.9 110.9 L409.9 110.6 L410.9 110.4 L411.9 110.1 L412.8 109.9 L413.8 109.7 L414.8 109.4 L415.7 109.2 L416.7 109 L417.7 108.7 L418.7 108.5 L419.6 108.3 L420.6 108.1 L421.6 107.8 L422.6 107.6 L423.5 107.4 L424.5 107.2 L425.5 107 L426.5 106.8 L427.4 106.6 L428.4 106.4 L429.4 106.2 L430.4 106 L431.4 105.8 L432.3 105.7 L433.3 105.5 L434.3 105.3 L435.3 105.1 L436.3 105 L437.3 104.8 L438.2 104.7 L439.2 104.5 L440.2 104.4 L441.2 104.2 L442.2 104.1 L443.2 103.9 L444.2 103.8 L445.1 103.7 L446.1 103.5 L447.1 103.4 L448.1 103.3 L449.1 103.2 L450.1 103.1 L451.1 103 L452.1 102.9 L453.1 102.8 L454 102.7 L455 102.6 L456 102.6 L457 102.5 L458 102.4 L459 102.3 L460 102.3 L461 102.2 L462 102.2 L463 102.2 L464 102.1 L465 102.1 L466 102.1 L467 102 L468 102 L469 102 L470 102 L471 102 L472 102 L473 102 L474 102.1 L475 102.1 L476 102.1 L477 102.1 L478 102.2 L479 102.2 L480 102.3 L481 102.3 L482 102.4 L483 102.5 L484 102.5 L485 102.6 L486 102.7 L487 102.8 L488 102.9 L489 103 L490 103.1 L491 103.2 L492 103.3 L493 103.5 L494 103.6 L495 103.7 L496 103.9 L497 104 L498 104.2 L499 104.3 L500 104.5 L501 104.6 L502 104.8 L503 105 L503.9 105.2 L504.9 105.4 L505.9 105.6 L506.9 105.8 L507.9 106 L508.9 106.2 L509.9 106.4 L510.9 106.6 L511.8 106.8 L512.8 107.1 L513.8 107.3 L514.8 107.5 L515.8 107.8 L516.7 108 L517.7 108.3 L518.7 108.6 L519.7 108.8 L520.6 109.1 L521.6 109.4 L522.6 109.7 L523.5 110 L524.5 110.3 L525.4 110.6 L526.4 110.9 L527.4 111.2 L528.3 111.5 L529.3 111.8 L530.2 112.1 L531.2 112.5 L532.1 112.8 L533.1 113.1 L534 113.5 L535 113.9 L535.9 114.2 L536.8 114.6 L537.8 114.9 L538.7 115.3 L539.6 115.7 L540.6 116.1 L541.5 116.5 L542.4 116.9 L543.3 117.3 L544.2 117.7 L545.2 118.1 L546.1 118.5 L547 118.9 L547.9 119.3 L548.8 119.8 L549.7 120.2 L550.6 120.7 L551.5 121.1 L552.4 121.6 L553.3 122 L554.2 122.5 L555.1 122.9 L555.9 123.4 L556.8 123.9 L557.7 124.4 L558.6 124.9 L559.4 125.4 L560.3 125.9 L561.2 126.4 L562 126.9 L562.9 127.4 L563.7 127.9 L564.6 128.4 L565.4 129 L566.3 129.5 L567.1 130 L568 130.6 L568.8 131.1 L569.6 131.7 L570.4 132.2 L571.3 132.8 L572.1 133.4 L572.9 133.9 L573.7 134.5 L574.5 135.1 L575.3 135.7 L576.1 136.3 L576.9 136.9 L577.7 137.5 L578.5 138.1 L579.3 138.7 L580 139.3 L580.8 140 L581.6 140.6 L582.3 141.2 L583.1 141.9 L583.9 142.5 L584.6 143.2 L585.4 143.8 L586.1 144.5 L586.8 145.1 L587.6 145.8 L588.3 146.5 L589 147.2 L589.8 147.9 L590.5 148.5 L591.2 149.2 L591.9 149.9 L592.6 150.6 L593.3 151.4 L594 152.1 L594.7 152.8 L595.3 153.5 L596 154.2 L596.7 155 L597.4 155.7 L598 156.5 L598.7 157.2 L599.3 158 L600 158.7 L600.6 159.5 L601.3 160.2 L601.9 161 L602.5 161.8 L603.2 162.5 L603.8 163.3 L604.4 164.1 L605 164.9 L605.6 165.7 L606.3 166.5 L606.9 167.3 L607.5 168.1 L608 168.9 L608.6 169.7 L609.2 170.5 L609.8 171.3 L610.4 172.1 L611 173 L611.5 173.8 L612.1 174.6 L612.7 175.5 L613.2 176.3 L613.8 177.1 L614.3 178 L614.9 178.8 L615.4 179.6 L616 180.5 L616.5 181.3 L617 182.2 L617.6 183.1 L618.1 183.9 L618.6 184.8 L619.1 185.6 L619.6 186.5 L620.2 187.4 L620.7 188.2 L621.2 189.1 L621.7 190 L622.2 190.8 L622.7 191.7 L623.2 192.6 L623.6 193.5 L624.1 194.3 L624.6 195.2 L625.1 196.1 L625.6 197 L626.1 197.9 L626.5 198.8 L627 199.7 L627.5 200.5 L627.9 201.4 L628.4 202.3 L628.8 203.2 L629.3 204.1 L629.7 205 L630.2 205.9 L630.6 206.8 L631.1 207.7 L631.5 208.6 L632 209.5 L632.4 210.4 L632.9 211.3 L633.3 212.2 L633.7 213.1 L634.1 214 L634.6 214.9 L635 215.8 L635.4 216.7 L635.9 217.6 L636.3 218.5 L636.7 219.4 L637.1 220.3 L637.5 221.2 L638 222.1 L638.4 223 L638.8 224 L639.2 224.9 L639.6 225.8 L640 226.7 L640.4 227.6 L640.8 228.5 L641.3 229.4 L641.7 230.3 L642.1 231.2 L642.5 232.2 L642.9 233.1 L643.3 234 L643.7 234.9 L644.1 235.8 L644.5 236.7 L644.9 237.6 L645.3 238.6 L645.7 239.5 L646.1 240.4 L646.5 241.3 L646.9 242.2 L647.3 243.1 L647.7 244.1 L648.1 245 L648.5 245.9 L648.8 246.8 L649.2 247.7 L649.6 248.7 L650 249.6 L650.4 250.5 L650.7 251.4 L651.1 252.4 L651.5 253.3 L651.9 254.2 L652.2 255.1 L652.6 256.1 L653 257 L653.3 257.9 L653.7 258.9 L654 259.8 L654.4 260.7 L654.7 261.7 L655.1 262.6 L655.4 263.5 L655.7 264.5 L656.1 265.4 L656.4 266.4 L656.7 267.3 L657.1 268.3 L657.4 269.2 L657.7 270.1 L658 271.1 L658.3 272 L658.6 273 L658.9 273.9 L659.2 274.9 L659.6 275.8 L659.9 276.8 L660.2 277.7 L660.5 278.7 L660.8 279.6 L661.1 280.6 L661.4 281.5 L661.7 282.5 L662 283.4 L662.4 284.4 L662.7 285.3 L663 286.3 L663.3 287.2 L663.6 288.2 L664 289.1 L664.3 290.1 L664.6 291 L664.9 292 L665.2 292.9 L665.6 293.9 L665.9 294.8 L666.2 295.8 L666.5 296.7 L666.9 297.6 L667.2 298.6 L667.5 299.5 L667.8 300.5 L668.1 301.4 L668.5 302.4 L668.8 303.3 L669.1 304.3 L669.4 305.2 L669.7 306.2 L670.1 307.1 L670.4 308.1 L670.7 309 L671 310 L671.3 310.9 L671.6 311.9 L671.9 312.8 L672.2 313.8 L672.6 314.7 L672.9 315.7 L673.2 316.6 L673.5 317.6 L673.8 318.5 L674.1 319.5 L674.4 320.4 L674.7 321.4 L675 322.4 L675.3 323.3 L675.6 324.3 L675.9 325.2 L676.2 326.2 L676.5 327.1 L676.7 328.1 L677 329 L677.3 330 L677.6 331 L677.9 331.9 L678.2 332.9 L678.5 333.8 L678.8 334.8 L679 335.7 L679.3 336.7 L679.6 337.7 L679.9 338.6 L680.2 339.6 L680.4 340.5 L680.7 341.5 L681 342.5 L681.3 343.4 L681.5 344.4 L681.8 345.4 L682.1 346.3 L682.4 347.3 L682.6 348.2 L682.9 349.2 L683.2 350.2 L683.4 351.1 L683.7 352.1 L684 353.1 L684.2 354 L684.5 355 L684.8 355.9 L685 356.9 L685.3 357.9 L685.5 358.8 L685.8 359.8 L686.1 360.8 L686.3 361.7 L686.6 362.7 L686.8 363.7 L687.1 364.6 L687.3 365.6 L687.6 366.6 L687.8 367.5 L688.1 368.5 L688.3 369.5 L688.6 370.5 L688.8 371.4 L689.1 372.4 L689.3 373.4 L689.6 374.3 L689.8 375.3 L690 376.3 L690.3 377.2 L690.5 378.2 L690.8 379.2 L691 380.2 L691.2 381.1 L691.5 382.1 L691.7 383.1 L692 384 L692.2 385 L692.4 386 L692.7 387 L692.9 387.9 L693.1 388.9 L693.4 389.9 L693.6 390.8 L693.8 391.8 L694.1 392.8 L694.3 393.8 L694.5 394.7 L694.7 395.7 L695 396.7 L695.2 397.7 L695.4 398.6 L695.6 399.6 L695.9 400.6 L696.1 401.6 L696.3 402.5 L696.5 403.5 L696.7 404.5 L697 405.5 L697.2 406.4 L697.4 407.4 L697.6 408.4 L697.8 409.4 L698.1 410.3 L698.3 411.3 L698.5 412.3 L698.7 413.3 L698.9 414.3 L699.1 415.2 L699.3 416.2 L699.5 417.2 L699.8 418.2 L700 419.1 L700.2 420.1 L700.4 421.1 L700.6 422.1 L700.8 423.1 L701 424 L701.2 425 L701.4 426 L701.6 427 L701.8 428 L702 428.9 L702.2 429.9 L702.4 430.9 L702.6 431.9 L702.8 432.9 L703 433.8 L703.2 434.8 L703.4 435.8 L703.6 436.8 L703.8 437.8 L704 438.7 L704.2 439.7 L704.4 440.7 L704.6 441.7 L704.8 442.7 L705 443.6 L705.2 444.6 L705.4 445.6 L705.6 446.6 L705.8 447.6 L706 448.6 L706.2 449.5 L706.4 450.5 L706.6 451.5 L706.8 452.5 L707 453.5 L707.1 454.4 L707.3 455.4 L707.5 456.4 L707.7 457.4 L707.9 458.4 L708.1 459.4 L708.3 460.3 L708.5 461.3 L708.6 462.3 L708.8 463.3 L709 464.3 L709.2 465.3 L709.4 466.2 L709.6 467.2 L709.8 468.2 L709.9 469.2 L710.1 470.2 L710.3 471.2 L710.5 472.1 L710.7 473.1 L710.8 474.1 L711 475.1 L711.2 476.1 L711.4 477.1 L711.6 478 L711.7 479 L712 480" fill="none" stroke="#ed1c24" stroke-width="2.9" stroke-linejoin="round" stroke-linecap="butt" clip-path="url(#c1)"/>
<path d="M160 192.6 L160.8 192 L161.8 191.6 L162.2 191.4 M176 185.4 L176.4 185.2 L177.3 184.8 L178.2 184.4 L179.1 184 L180.1 183.6 L181 183.2 L181.9 182.8 L182.8 182.4 L183.7 182 L184.6 181.6 L185.3 181.3 M199.1 175.1 L199.2 175 L200.1 174.6 L201 174.2 L201.9 173.8 L202.8 173.3 L203.7 172.9 L204.6 172.5 L205.5 172.1 L206.4 171.7 L207.3 171.2 L208.2 170.8 L208.3 170.8 M222.1 164.3 L222.7 164 L223.6 163.6 L224.5 163.2 L225.4 162.7 L226.3 162.3 L227.3 161.9 L228.2 161.5 L229.1 161 L230 160.6 L230.9 160.2 L231.4 159.9 M245.1 153.4 L245.3 153.3 L246.2 152.8 L247.1 152.4 L248 152 L248.9 151.5 L249.8 151.1 L250.7 150.7 L251.6 150.2 L252.5 149.8 L253.4 149.4 L254.3 148.9 L254.4 148.9 M268.2 142.3 L268.8 142 L269.7 141.6 L270.6 141.1 L271.5 140.7 L272.4 140.3 L273.3 139.9 L274.2 139.4 L275.1 139 L276 138.6 L276.9 138.1 L277.5 137.8 M291.2 131.3 L291.4 131.2 L292.3 130.8 L293.2 130.4 L294.1 129.9 L295 129.5 L295.9 129.1 L296.8 128.7 L297.7 128.2 L298.6 127.8 L299.5 127.4 L300.4 127 L300.6 126.9 M314.3 120.5 L315 120.2 L315.9 119.8 L316.8 119.3 L317.7 118.9 L318.6 118.5 L319.5 118.1 L320.4 117.7 L321.3 117.3 L322.2 116.8 L323.1 116.4 L323.6 116.2 M337.4 110 L337.7 109.8 L338.7 109.4 L339.6 109 L340.5 108.6 L341.4 108.2 L342.3 107.8 L343.2 107.4 L344.1 107 L345.1 106.6 L346 106.2 L346.7 105.9 M360.4 100 L360.7 99.9 L361.6 99.5 L362.5 99.1 L363.4 98.7 L364.4 98.4 L365.3 98 L366.2 97.6 L367.1 97.2 L368.1 96.8 L369 96.4 L369.7 96.1 M383.5 90.6 L383.8 90.5 L384.7 90.1 L385.7 89.7 L386.6 89.4 L387.5 89 L388.5 88.7 L389.4 88.3 L390.3 87.9 L391.3 87.6 L392.2 87.2 L392.8 87 M406.5 81.9 L407.2 81.7 L408.1 81.3 L409.1 81 L410 80.7 L411 80.3 L411.9 80 L412.9 79.7 L413.8 79.3 L414.7 79 L415.7 78.7 L415.8 78.6 M429.6 74 L429.9 73.9 L430.9 73.6 L431.8 73.3 L432.8 73 L433.7 72.7 L434.7 72.4 L435.6 72.1 L436.6 71.8 L437.6 71.5 L438.5 71.2 L438.9 71.1 M452.6 67.2 L452.9 67.1 L453.9 66.8 L454.9 66.6 L455.8 66.3 L456.8 66.1 L457.8 65.8 L458.7 65.6 L459.7 65.3 L460.7 65.1 L461.7 64.8 L461.9 64.8 M475.7 61.7 L476.3 61.6 L477.3 61.4 L478.3 61.2 L479.2 61 L480.2 60.8 L481.2 60.6 L482.2 60.5 L483.2 60.3 L484.2 60.1 L485 60 M498.7 57.9 L499 57.9 L500 57.8 L501 57.6 L502 57.5 L503 57.4 L504 57.3 L505 57.2 L506 57.1 L507 57 L508 56.9 M521.8 56 L522 56 L523 55.9 L524.1 55.9 L525.1 55.8 L526.1 55.8 L527.1 55.8 L528.1 55.8 L529.1 55.7 L530.1 55.7 L531.1 55.7 M544.8 55.9 L545.1 55.9 L546.2 55.9 L547.2 55.9 L548.2 56 L549.2 56 L550.2 56.1 L551.2 56.1 L552.2 56.2 L553.2 56.3 L554.1 56.3 M567.9 57.6 L568.1 57.6 L569.1 57.8 L570.1 57.9 L571.1 58 L572.1 58.2 L573.1 58.3 L574.1 58.4 L575.1 58.6 L576.1 58.7 L577.1 58.9 L577.2 58.9 M590.9 61.4 L591.8 61.6 L592.8 61.8 L593.8 62 L594.7 62.2 L595.7 62.4 L596.7 62.6 L597.7 62.9 L598.6 63.1 L599.6 63.3 L600.2 63.5 M614 67.3 L614 67.3 L614.9 67.6 L615.9 67.9 L616.8 68.2 L617.8 68.5 L618.7 68.8 L619.7 69.1 L620.6 69.4 L621.6 69.8 L622.5 70.1 L623.3 70.4 M637 75.7 L637.3 75.8 L638.2 76.2 L639.1 76.6 L640 77 L640.9 77.4 L641.8 77.8 L642.7 78.2 L643.6 78.7 L644.5 79.1 L645.4 79.5 L646.3 79.9 M660.1 87.1 L660.4 87.3 L661.2 87.8 L662.1 88.3 L662.9 88.8 L663.8 89.3 L664.6 89.8 L665.5 90.3 L666.3 90.8 L667.2 91.4 L668 91.9 L668.9 92.4 L669.4 92.7 M683.1 102.2 L683.6 102.6 L684.4 103.2 L685.2 103.8 L686 104.4 L686.8 105 L687.6 105.6 L688.3 106.3 L689.1 106.9 L689.9 107.5 L690.7 108.1 L691.5 108.8 L692.2 109.4 L692.4 109.5 M706.2 121.6 L706.5 122 L707.3 122.7 L708 123.4 L708.7 124.1 L709.5 124.8 L710.2 125.5 L710.9 126.2 L711.6 126.9 L712.3 127.6 L713 128.3 L713.8 129 L714.5 129.7 L715.2 130.5 L715.4 130.7 M728.1 144.5 L728.2 144.5 L728.8 145.3 L729.5 146 L730.2 146.8 L730.8 147.6 L731.5 148.3 L732.1 149.1 L732.8 149.9 L733.4 150.7 L734.1 151.4 L734.7 152.2 L735.4 153 L736 153.8 L736 153.8 M746.8 167.5 L747.2 168 L747.8 168.8 L748.4 169.6 L749 170.4 L749.6 171.2 L750.2 172 L750.8 172.9 L751.3 173.7 L751.9 174.5 L752.5 175.3 L753.1 176.1 L753.6 176.8 M763.1 190.6 L763.3 190.9 L763.9 191.8 L764.4 192.6 L765 193.4 L765.5 194.3 L766 195.1 L766.6 196 L767.1 196.8 L767.7 197.6 L768.2 198.5 L768.7 199.3 L769.1 199.9 M777.5 213.6 L777.6 213.8 L778.1 214.6 L778.7 215.5 L779.2 216.3 L779.7 217.2 L780.2 218.1 L780.7 218.9 L781.2 219.8 L781.7 220.6 L782.2 221.5 L782.7 222.4 L783 222.9 M790.6 236.7 L790.9 237.2 L791.4 238 L791.9 238.9 L792.3 239.8 L792.8 240.7 L793.3 241.6 L793.7 242.4 L794.2 243.3 L794.7 244.2 L795.1 245.1 L795.6 246 M802.6 259.7 L802.8 260.2 L803.3 261.1 L803.7 262 L804.1 262.9 L804.6 263.8 L805 264.7 L805.4 265.6 L805.9 266.5 L806.3 267.4 L806.8 268.3 L807.1 269 M813.5 282.8 L813.6 282.8 L814 283.7 L814.4 284.6 L814.8 285.5 L815.2 286.4 L815.6 287.4 L816 288.3 L816.5 289.2 L816.9 290.1 L817.3 291 L817.7 291.9 L817.7 292.1" fill="none" stroke="#2e3192" stroke-width="2.9" stroke-linejoin="round" stroke-linecap="round" clip-path="url(#c1)"/>
<path d="M160 177.9 L160.9 177.4 L161.8 177 L162.8 176.7 L163.7 176.3 L164.6 175.9 L165.5 175.5 L166.4 175.1 L167.4 174.8 L168.3 174.4 L169.2 174 L170.1 173.6 L171 173.2 L172 172.9 L172.9 172.5 L173.8 172.1 L174.7 171.7 L175.6 171.3 L176.6 170.9 L177.5 170.6 L178.4 170.2 L179.3 169.8 L180.2 169.4 L181.1 169 L182.1 168.6 L183 168.2 L183.9 167.8 L184.8 167.5 L185.7 167.1 L186.7 166.7 L187.6 166.3 L188.5 165.9 L189.4 165.5 L190.3 165.1 L191.2 164.7 L192.2 164.3 L193.1 163.9 L194 163.5 L194.9 163.2 L195.8 162.8 L196.8 162.4 L197.7 162 L198.6 161.6 L199.5 161.2 L200.4 160.8 L201.3 160.4 L202.3 160 L203.2 159.6 L204.1 159.2 L205 158.8 L205.9 158.4 L206.8 158 L207.8 157.6 L208.7 157.2 L209.6 156.8 L210.5 156.4 L211.4 156 L212.4 155.6 L213.3 155.2 L214.2 154.8 L215.1 154.4 L216 154 L216.9 153.6 L217.9 153.2 L218.8 152.8 L219.7 152.4 L220.6 152 L221.5 151.6 L222.4 151.2 L223.4 150.8 L224.3 150.4 L225.2 150 L226.1 149.6 L227 149.2 L228 148.8 L228.9 148.4 L229.8 148 L230.7 147.6 L231.6 147.2 L232.5 146.8 L233.5 146.4 L234.4 146 L235.3 145.6 L236.2 145.2 L237.1 144.8 L238 144.4 L239 144 L239.9 143.6 L240.8 143.2 L241.7 142.8 L242.6 142.4 L243.6 142 L244.5 141.6 L245.4 141.2 L246.3 140.8 L247.2 140.4 L248.1 140 L249.1 139.6 L250 139.2 L250.9 138.8 L251.8 138.4 L252.7 138 L253.6 137.6 L254.6 137.2 L255.5 136.8 L256.4 136.4 L257.3 136 L258.2 135.6 L259.2 135.2 L260.1 134.8 L261 134.3 L261.9 133.9 L262.8 133.5 L263.8 133.1 L264.7 132.7 L265.6 132.3 L266.5 131.9 L267.4 131.5 L268.3 131.1 L269.3 130.7 L270.2 130.3 L271.1 129.9 L272 129.5 L272.9 129.1 L273.9 128.7 L274.8 128.3 L275.7 127.9 L276.6 127.5 L277.5 127.1 L278.5 126.7 L279.4 126.3 L280.3 125.9 L281.2 125.5 L282.1 125.1 L283.1 124.7 L284 124.3 L284.9 123.9 L285.8 123.5 L286.7 123.1 L287.7 122.7 L288.6 122.3 L289.5 121.9 L290.4 121.5 L291.3 121.1 L292.3 120.7 L293.2 120.3 L294.1 119.9 L295 119.5 L295.9 119.1 L296.9 118.7 L297.8 118.4 L298.7 118 L299.6 117.6 L300.6 117.2 L301.5 116.8 L302.4 116.4 L303.3 116 L304.2 115.6 L305.2 115.2 L306.1 114.8 L307 114.4 L307.9 114 L308.9 113.6 L309.8 113.2 L310.7 112.8 L311.6 112.5 L312.6 112.1 L313.5 111.7 L314.4 111.3 L315.3 110.9 L316.2 110.5 L317.2 110.1 L318.1 109.7 L319 109.3 L319.9 109 L320.9 108.6 L321.8 108.2 L322.7 107.8 L323.6 107.4 L324.6 107 L325.5 106.6 L326.4 106.3 L327.3 105.9 L328.3 105.5 L329.2 105.1 L330.1 104.7 L331 104.3 L332 104 L332.9 103.6 L333.8 103.2 L334.7 102.8 L335.7 102.4 L336.6 102.1 L337.5 101.7 L338.5 101.3 L339.4 100.9 L340.3 100.5 L341.2 100.2 L342.2 99.8 L343.1 99.4 L344 99 L344.9 98.7 L345.9 98.3 L346.8 97.9 L347.7 97.5 L348.7 97.2 L349.6 96.8 L350.5 96.4 L351.4 96.1 L352.4 95.7 L353.3 95.3 L354.2 95 L355.2 94.6 L356.1 94.2 L357 93.9 L358 93.5 L358.9 93.1 L359.8 92.8 L360.7 92.4 L361.7 92 L362.6 91.7 L363.5 91.3 L364.5 90.9 L365.4 90.6 L366.3 90.2 L367.3 89.9 L368.2 89.5 L369.1 89.1 L370.1 88.8 L371 88.4 L371.9 88.1 L372.9 87.7 L373.8 87.4 L374.7 87 L375.7 86.7 L376.6 86.3 L377.5 86 L378.5 85.6 L379.4 85.3 L380.3 84.9 L381.3 84.6 L382.2 84.2 L383.1 83.9 L384.1 83.5 L385 83.2 L386 82.8 L386.9 82.5 L387.8 82.1 L388.8 81.8 L389.7 81.5 L390.6 81.1 L391.6 80.8 L392.5 80.4 L393.4 80.1 L394.4 79.8 L395.3 79.4 L396.3 79.1 L397.2 78.8 L398.1 78.4 L399.1 78.1 L400 77.8 L401 77.4 L401.9 77.1 L402.8 76.8 L403.8 76.4 L404.7 76.1 L405.7 75.8 L406.6 75.5 L407.5 75.1 L408.5 74.8 L409.4 74.5 L410.4 74.2 L411.3 73.9 L412.3 73.5 L413.2 73.2 L414.1 72.9 L415.1 72.6 L416 72.3 L417 72 L417.9 71.7 L418.9 71.4 L419.8 71 L420.8 70.7 L421.7 70.4 L422.7 70.1 L423.6 69.8 L424.6 69.5 L425.5 69.2 L426.5 68.9 L427.4 68.6 L428.4 68.3 L429.3 68 L430.3 67.8 L431.2 67.5 L432.2 67.2 L433.1 66.9 L434.1 66.6 L435 66.3 L436 66 L437 65.8 L437.9 65.5 L438.9 65.2 L439.8 64.9 L440.8 64.6 L441.7 64.4 L442.7 64.1 L443.7 63.8 L444.6 63.6 L445.6 63.3 L446.5 63 L447.5 62.8 L448.5 62.5 L449.4 62.3 L450.4 62 L451.4 61.7 L452.3 61.5 L453.3 61.2 L454.3 61 L455.2 60.7 L456.2 60.5 L457.2 60.3 L458.1 60 L459.1 59.8 L460.1 59.5 L461.1 59.3 L462 59.1 L463 58.8 L464 58.6 L465 58.4 L465.9 58.2 L466.9 57.9 L467.9 57.7 L468.9 57.5 L469.9 57.3 L470.8 57.1 L471.8 56.9 L472.8 56.6 L473.8 56.4 L474.8 56.2 L475.8 56 L476.7 55.8 L477.7 55.6 L478.7 55.4 L479.7 55.2 L480.7 55.1 L481.7 54.9 L482.7 54.7 L483.7 54.5 L484.6 54.3 L485.6 54.1 L486.6 54 L487.6 53.8 L488.6 53.6 L489.6 53.5 L490.6 53.3 L491.6 53.1 L492.6 53 L493.6 52.8 L494.6 52.7 L495.6 52.5 L496.6 52.4 L497.6 52.3 L498.6 52.1 L499.6 52 L500.6 51.8 L501.6 51.7 L502.6 51.6 L503.6 51.5 L504.6 51.4 L505.6 51.2 L506.6 51.1 L507.6 51 L508.6 50.9 L509.6 50.8 L510.6 50.7 L511.6 50.6 L512.6 50.5 L513.6 50.4 L514.6 50.3 L515.6 50.3 L516.6 50.2 L517.6 50.1 L518.6 50 L519.6 50 L520.6 49.9 L521.6 49.9 L522.6 49.8 L523.6 49.7 L524.6 49.7 L525.6 49.7 L526.6 49.6 L527.6 49.6 L528.6 49.5 L529.6 49.5 L530.6 49.5 L531.6 49.5 L532.6 49.5 L533.6 49.4 L534.6 49.4 L535.6 49.4 L536.6 49.4 L537.6 49.4 L538.6 49.4 L539.6 49.5 L540.6 49.5 L541.6 49.5 L542.6 49.5 L543.6 49.6 L544.6 49.6 L545.6 49.6 L546.6 49.7 L547.6 49.7 L548.6 49.8 L549.6 49.8 L550.6 49.9 L551.6 50 L552.6 50 L553.6 50.1 L554.6 50.2 L555.6 50.3 L556.6 50.4 L557.6 50.5 L558.6 50.6 L559.6 50.7 L560.6 50.8 L561.6 50.9 L562.6 51 L563.6 51.1 L564.6 51.3 L565.6 51.4 L566.6 51.5 L567.6 51.7 L568.6 51.8 L569.6 52 L570.5 52.1 L571.5 52.3 L572.5 52.5 L573.5 52.7 L574.5 52.8 L575.5 53 L576.5 53.2 L577.5 53.4 L578.4 53.6 L579.4 53.8 L580.4 54 L581.4 54.3 L582.4 54.5 L583.3 54.7 L584.3 55 L585.3 55.2 L586.2 55.4 L587.2 55.7 L588.2 56 L589.2 56.2 L590.1 56.5 L591.1 56.8 L592 57.1 L593 57.3 L593.9 57.6 L594.9 57.9 L595.9 58.3 L596.8 58.6 L597.7 58.9 L598.7 59.2 L599.6 59.6 L600.6 59.9 L601.5 60.2 L602.4 60.6 L603.4 61 L604.3 61.3 L605.2 61.7 L606.1 62.1 L607 62.5 L607.9 62.9 L608.9 63.3 L609.8 63.7 L610.7 64.1 L611.6 64.5 L612.5 64.9 L613.3 65.4 L614.2 65.8 L615.1 66.3 L616 66.7 L616.9 67.2 L617.7 67.7 L618.6 68.1 L619.5 68.6 L620.3 69.1 L621.2 69.6 L622 70.1 L622.9 70.6 L623.7 71.2 L624.5 71.7 L625.4 72.2 L626.2 72.8 L627 73.3 L627.8 73.9 L628.7 74.4 L629.5 75 L630.3 75.6 L631.1 76.1 L631.9 76.7 L632.6 77.3 L633.4 77.9 L634.2 78.5 L635 79.1 L635.8 79.8 L636.5 80.4 L637.3 81 L638 81.7 L638.8 82.3 L639.5 82.9 L640.3 83.6 L641 84.3 L641.7 84.9 L642.5 85.6 L643.2 86.3 L643.9 87 L644.6 87.6 L645.3 88.3 L646 89 L646.7 89.7 L647.4 90.5 L648.1 91.2 L648.8 91.9 L649.5 92.6 L650.1 93.3 L650.8 94.1 L651.5 94.8 L652.1 95.6 L652.8 96.3 L653.4 97.1 L654.1 97.8 L654.7 98.6 L655.4 99.3 L656 100.1 L656.6 100.9 L657.3 101.7 L657.9 102.5 L658.5 103.2 L659.1 104 L659.7 104.8 L660.3 105.6 L660.9 106.4 L661.5 107.2 L662.1 108 L662.7 108.9 L663.3 109.7 L663.9 110.5 L664.5 111.3 L665 112.2 L665.6 113 L666.2 113.8 L666.7 114.7 L667.3 115.5 L667.8 116.3 L668.4 117.2 L669 118 L669.5 118.9 L670 119.7 L670.6 120.6 L671.1 121.5 L671.6 122.3 L672.2 123.2 L672.7 124.1 L673.2 124.9 L673.7 125.8 L674.3 126.7 L674.8 127.6 L675.3 128.4 L675.8 129.3 L676.3 130.2 L676.8 131.1 L677.3 132 L677.8 132.9 L678.3 133.8 L678.8 134.6 L679.3 135.5 L679.7 136.4 L680.2 137.3 L680.7 138.2 L681.2 139.1 L681.7 140 L682.1 140.9 L682.6 141.8 L683.1 142.7 L683.5 143.7 L684 144.6 L684.4 145.5 L684.9 146.4 L685.4 147.3 L685.8 148.2 L686.3 149.1 L686.7 150 L687.2 150.9 L687.6 151.8 L688 152.7 L688.5 153.7 L688.9 154.6 L689.4 155.5 L689.8 156.4 L690.2 157.3 L690.6 158.2 L691.1 159.1 L691.5 160.1 L691.9 161 L692.3 161.9 L692.8 162.8 L693.2 163.7 L693.6 164.6 L694 165.5 L694.4 166.4 L694.8 167.4 L695.2 168.3 L695.7 169.2 L696.1 170.1 L696.5 171 L696.9 171.9 L697.3 172.9 L697.7 173.8 L698.1 174.7 L698.5 175.6 L698.8 176.5 L699.2 177.4 L699.6 178.4 L700 179.3 L700.4 180.2 L700.8 181.1 L701.2 182 L701.5 183 L701.9 183.9 L702.3 184.8 L702.7 185.7 L703 186.7 L703.4 187.6 L703.8 188.5 L704.2 189.4 L704.5 190.4 L704.9 191.3 L705.3 192.2 L705.6 193.1 L706 194.1 L706.3 195 L706.7 195.9 L707 196.8 L707.4 197.8 L707.7 198.7 L708.1 199.6 L708.4 200.6 L708.8 201.5 L709.1 202.4 L709.5 203.4 L709.8 204.3 L710.2 205.2 L710.5 206.2 L710.8 207.1 L711.2 208 L711.5 209 L711.8 209.9 L712.2 210.9 L712.5 211.8 L712.8 212.7 L713.2 213.7 L713.5 214.6 L713.8 215.6 L714.1 216.5 L714.5 217.4 L714.8 218.4 L715.1 219.3 L715.4 220.3 L715.7 221.2 L716.1 222.2 L716.4 223.1 L716.7 224 L717 225 L717.3 225.9 L717.6 226.9 L717.9 227.8 L718.2 228.8 L718.6 229.7 L718.9 230.7 L719.2 231.6 L719.5 232.6 L719.8 233.5 L720.1 234.5 L720.4 235.4 L720.7 236.4 L721 237.3 L721.3 238.3 L721.6 239.2 L721.9 240.2 L722.2 241.2 L722.5 242.1 L722.8 243.1 L723.1 244 L723.3 245 L723.6 245.9 L723.9 246.9 L724.2 247.8 L724.5 248.8 L724.8 249.7 L725.1 250.7 L725.4 251.7 L725.7 252.6 L726 253.6 L726.2 254.5 L726.5 255.5 L726.8 256.5 L727.1 257.4 L727.4 258.4 L727.7 259.3 L727.9 260.3 L728.2 261.2 L728.5 262.2 L728.8 263.2 L729.1 264.1 L729.3 265.1 L729.6 266 L729.9 267 L730.2 268 L730.5 268.9 L730.7 269.9 L731 270.9 L731.3 271.8 L731.6 272.8 L731.9 273.7 L732.1 274.7 L732.4 275.7 L732.7 276.6 L733 277.6 L733.2 278.5 L733.5 279.5 L733.8 280.5 L734.1 281.4 L734.4 282.4 L734.6 283.4 L734.9 284.3 L735.2 285.3 L735.5 286.2 L735.7 287.2 L736 288.2 L736.3 289.1 L736.6 290.1 L736.8 291 L737.1 292 L737.4 293 L737.7 293.9 L737.9 294.9 L738.2 295.9 L738.5 296.8 L738.7 297.8 L739 298.7 L739.3 299.7 L739.6 300.7 L739.8 301.6 L740.1 302.6 L740.4 303.6 L740.7 304.5 L740.9 305.5 L741.2 306.5 L741.5 307.4 L741.7 308.4 L742 309.3 L742.3 310.3 L742.6 311.3 L742.8 312.2 L743.1 313.2 L743.4 314.2 L743.6 315.1 L743.9 316.1 L744.2 317.1 L744.4 318 L744.7 319 L745 319.9 L745.2 320.9 L745.5 321.9 L745.8 322.8 L746 323.8 L746.3 324.8 L746.6 325.7 L746.8 326.7 L747.1 327.7 L747.4 328.6 L747.6 329.6 L747.9 330.6 L748.1 331.5 L748.4 332.5 L748.7 333.5 L748.9 334.4 L749.2 335.4 L749.4 336.4 L749.7 337.3 L750 338.3 L750.2 339.3 L750.5 340.2 L750.7 341.2 L751 342.2 L751.3 343.1 L751.5 344.1 L751.8 345.1 L752 346 L752.3 347 L752.5 348 L752.8 348.9 L753 349.9 L753.3 350.9 L753.6 351.8 L753.8 352.8 L754.1 353.8 L754.3 354.7 L754.6 355.7 L754.8 356.7 L755.1 357.6 L755.3 358.6 L755.6 359.6 L755.8 360.5 L756.1 361.5 L756.3 362.5 L756.5 363.5 L756.8 364.4 L757 365.4 L757.3 366.4 L757.5 367.3 L757.8 368.3 L758 369.3 L758.3 370.2 L758.5 371.2 L758.7 372.2 L759 373.2 L759.2 374.1 L759.5 375.1 L759.7 376.1 L759.9 377 L760.2 378 L760.4 379 L760.6 380 L760.9 380.9 L761.1 381.9 L761.3 382.9 L761.6 383.8 L761.8 384.8 L762 385.8 L762.3 386.8 L762.5 387.7 L762.7 388.7 L763 389.7 L763.2 390.7 L763.4 391.6 L763.6 392.6 L763.9 393.6 L764.1 394.6 L764.3 395.5 L764.5 396.5 L764.8 397.5 L765 398.5 L765.2 399.4 L765.4 400.4 L765.7 401.4 L765.9 402.4 L766.1 403.3 L766.3 404.3 L766.5 405.3 L766.7 406.3 L767 407.2 L767.2 408.2 L767.4 409.2 L767.6 410.2 L767.8 411.1 L768 412.1 L768.2 413.1 L768.5 414.1 L768.7 415 L768.9 416 L769.1 417 L769.3 418 L769.5 419 L769.7 419.9 L769.9 420.9 L770.1 421.9 L770.3 422.9 L770.5 423.9 L770.7 424.8 L770.9 425.8 L771.1 426.8 L771.3 427.8 L771.5 428.8 L771.7 429.7 L771.9 430.7 L772.1 431.7 L772.3 432.7 L772.5 433.7 L772.7 434.6 L772.8 435.6 L773 436.6 L773.2 437.6 L773.4 438.6 L773.6 439.6 L773.8 440.5 L774 441.5 L774.1 442.5 L774.3 443.5 L774.5 444.5 L774.7 445.5 L774.9 446.4 L775.1 447.4 L775.2 448.4 L775.4 449.4 L775.6 450.4 L775.8 451.4 L775.9 452.3 L776.1 453.3 L776.3 454.3 L776.4 455.3 L776.6 456.3 L776.8 457.3 L776.9 458.3 L777.1 459.3 L777.3 460.2 L777.4 461.2 L777.6 462.2 L777.8 463.2 L777.9 464.2 L778.1 465.2 L778.2 466.2 L778.4 467.2 L778.6 468.1 L778.7 469.1 L778.9 470.1 L779 471.1 L779.2 472.1 L779.3 473.1 L779.5 474.1 L779.6 475.1 L779.8 476.1 L779.9 477.1 L780 478.1 L780.2 479 L780.5 480" fill="none" stroke="#ed1c24" stroke-width="2.9" stroke-linejoin="round" stroke-linecap="butt" clip-path="url(#c1)"/>
<path d="M166.1 238 L166.5 237.9 L167.4 237.5 L168 237.2 M176.2 233.8 L176.7 233.5 L177.6 233.2 L178.6 232.8 L179.5 232.4 L180.4 232 L181.3 231.6 L182.3 231.2 L183.2 230.8 L184.1 230.5 L185.1 230.1 L186 229.7 L186.9 229.3 L187.6 229.1 M195.4 225.9 L196.2 225.6 L197.2 225.2 L197.3 225.2 M205.5 222 L205.6 222 L206.5 221.6 L207.4 221.3 L208.4 220.9 L209.3 220.5 L210.2 220.2 L211.2 219.8 L212.1 219.5 L213 219.1 L214 218.8 L214.9 218.4 L215.8 218.1 L216.8 217.7 L216.9 217.7 M224.8 214.8 L225.2 214.7 L226.1 214.3 L226.6 214.2 M234.8 211.3 L235.5 211.1 L236.5 210.7 L237.4 210.4 L238.4 210.1 L239.3 209.8 L240.2 209.4 L241.2 209.1 L242.1 208.8 L243.1 208.5 L244 208.2 L245 207.9 L245.9 207.6 L246.2 207.5 M254.1 204.9 L254.4 204.8 L255.4 204.5 L255.9 204.3 M264.1 201.8 L264.9 201.5 L265.8 201.2 L266.8 200.9 L267.7 200.6 L268.7 200.4 L269.6 200.1 L270.6 199.8 L271.5 199.5 L272.5 199.2 L273.4 198.9 L274.4 198.7 L275.4 198.4 L275.5 198.3 M283.4 196.1 L284 195.9 L284.9 195.6 L285.2 195.6 M293.4 193.3 L293.6 193.3 L294.6 193 L295.6 192.8 L296.5 192.5 L297.5 192.2 L298.5 192 L299.4 191.7 L300.4 191.5 L301.4 191.2 L302.4 191 L303.3 190.7 L304.3 190.5 L304.8 190.4 M312.6 188.4 L313.1 188.3 L314.1 188.1 L314.6 188 M322.7 186.1 L322.9 186 L323.9 185.8 L324.9 185.6 L325.9 185.4 L326.9 185.1 L327.8 184.9 L328.8 184.7 L329.8 184.5 L330.8 184.3 L331.8 184.1 L332.8 183.9 L333.8 183.7 L334.1 183.6 M342 182 L342.7 181.9 L343.7 181.7 L343.9 181.7 M352 180.3 L352.7 180.2 L353.7 180 L354.7 179.8 L355.7 179.7 L356.7 179.5 L357.7 179.4 L358.7 179.2 L359.7 179.1 L360.7 179 L361.7 178.8 L362.7 178.7 L363.4 178.6 M371.2 177.7 L371.7 177.6 L372.7 177.5 L373.2 177.5 M381.3 176.8 L381.7 176.8 L382.7 176.7 L383.7 176.7 L384.7 176.6 L385.7 176.6 L386.7 176.5 L387.7 176.5 L388.7 176.5 L389.7 176.4 L390.7 176.4 L391.7 176.4 L392.7 176.4 L392.7 176.4 M400.6 176.4 L400.7 176.4 L401.6 176.4 L402.5 176.4 M410.6 176.8 L410.6 176.8 L411.6 176.9 L412.6 176.9 L413.6 177 L414.6 177.1 L415.6 177.2 L416.6 177.3 L417.5 177.4 L418.5 177.5 L419.5 177.6 L420.5 177.7 L421.5 177.9 L422 177.9 M429.9 179.1 L430.4 179.2 L431.3 179.4 L431.8 179.5 M439.9 181.2 L440.1 181.3 L441.1 181.5 L442.1 181.7 L443 182 L444 182.2 L445 182.5 L445.9 182.8 L446.9 183 L447.9 183.3 L448.8 183.6 L449.8 183.8 L450.7 184.1 L451.3 184.3 M459.2 186.9 L459.3 186.9 L460.2 187.3 L461.1 187.6 M469.2 190.8 L469.5 190.9 L470.5 191.3 L471.4 191.7 L472.3 192.1 L473.2 192.5 L474.1 192.9 L475 193.3 L475.9 193.8 L476.8 194.2 L477.7 194.6 L478.6 195.1 L479.5 195.5 L480.4 196 L480.6 196 M488.4 200.2 L489.2 200.7 L490.1 201.2 L490.3 201.3 M498.5 206.4 L498.6 206.5 L499.4 207 L500.3 207.6 L501.1 208.1 L501.9 208.7 L502.7 209.3 L503.5 209.9 L504.4 210.4 L505.2 211 L506 211.6 L506.8 212.2 L507.6 212.8 L508.4 213.4 L509.2 214 L509.9 214.6 M517.8 221.1 L518.4 221.7 L519.1 222.4 L519.6 222.8 M527.8 230.7 L527.8 230.7 L528.5 231.4 L529.1 232.2 L529.8 232.9 L530.5 233.6 L531.2 234.4 L531.8 235.1 L532.5 235.9 L533.2 236.6 L533.8 237.4 L534.5 238.1 L535.1 238.9 L535.8 239.7 L536.4 240.4 L537.1 241.2 L537.7 242 L537.8 242.1 M544 249.9 L544.5 250.7 L545.1 251.5 L545.4 251.8 M551.2 260 L551.5 260.5 L552.1 261.3 L552.7 262.2 L553.2 263 L553.8 263.8 L554.3 264.7 L554.9 265.5 L555.4 266.4 L556 267.2 L556.5 268 L557.1 268.9 L557.6 269.7 L558.1 270.6 L558.7 271.4 M563.4 279.2 L563.9 280 L564.4 280.9 L564.6 281.1 M569.2 289.3 L569.4 289.6 L569.8 290.4 L570.3 291.3 L570.8 292.2 L571.3 293.1 L571.8 294 L572.2 294.8 L572.7 295.7 L573.2 296.6 L573.6 297.5 L574.1 298.4 L574.6 299.2 L575 300.1 L575.3 300.7 M579.4 308.5 L579.6 309 L580.1 309.9 L580.3 310.4 M584.3 318.6 L584.4 318.9 L584.9 319.8 L585.3 320.8 L585.7 321.7 L586.1 322.6 L586.5 323.5 L587 324.4 L587.4 325.3 L587.8 326.2 L588.2 327.1 L588.6 328 L589 329 L589.4 329.9 L589.5 330 M592.8 337.8 L593 338.2 L593.4 339.1 L593.6 339.7 M596.9 347.9 L597.1 348.4 L597.5 349.3 L597.9 350.2 L598.2 351.2 L598.6 352.1 L599 353 L599.3 354 L599.7 354.9 L600 355.9 L600.4 356.8 L600.7 357.7 L601.1 358.7 L601.3 359.3 M604.2 367.1 L604.2 367.2 L604.5 368.1 L604.9 369 L604.9 369 M607.7 377.2 L607.8 377.6 L608.1 378.5 L608.5 379.5 L608.8 380.4 L609.1 381.4 L609.4 382.3 L609.7 383.3 L610 384.3 L610.3 385.2 L610.7 386.2 L611 387.1 L611.3 388.1 L611.4 388.6 M613.9 396.4 L614 396.7 L614.3 397.7 L614.5 398.3 M616.9 406.5 L617.2 407.3 L617.5 408.2 L617.7 409.2 L618 410.2 L618.3 411.1 L618.6 412.1 L618.9 413.1 L619.1 414 L619.4 415 L619.7 416 L620 416.9 L620.2 417.9 M622.4 425.7 L622.7 426.6 L622.9 427.6 L623 427.6 M625.2 435.8 L625.3 436.3 L625.6 437.3 L625.8 438.2 L626.1 439.2 L626.3 440.2 L626.6 441.2 L626.9 442.1 L627.1 443.1 L627.4 444.1 L627.6 445 L627.9 446 L628.1 447 L628.2 447.2 M630.2 455 L630.4 455.7 L630.7 456.7 L630.7 456.9 M632.8 465.1 L632.9 465.4 L633.1 466.4 L633.4 467.4 L633.6 468.3 L633.9 469.3 L634.1 470.3 L634.4 471.3 L634.6 472.2 L634.9 473.2 L635.1 474.2 L635.4 475.1 L635.6 476.1 L635.7 476.5" fill="none" stroke="#00693c" stroke-width="2.9" stroke-linejoin="round" stroke-linecap="round" clip-path="url(#c1)"/>
<text x="104.7" y="55.1" font-size="38">10<tspan font-size="23.3" dx="-1.7" dy="-21.7">22</tspan></text>
<text x="104.7" y="169.5" font-size="38">10<tspan font-size="23.3" dx="-1.7" dy="-21.7">20</tspan></text>
<text x="104.7" y="283.8" font-size="38">10<tspan font-size="23.3" dx="-1.7" dy="-21.7">18</tspan></text>
<text x="104.7" y="398.2" font-size="38">10<tspan font-size="23.3" dx="-1.7" dy="-21.7">16</tspan></text>
<text x="178" y="514.3" font-size="38" text-anchor="middle"  >0.1</text>
<text x="414.5" y="514.3" font-size="38" text-anchor="middle"  >1</text>
<text x="651" y="514.3" font-size="38" text-anchor="middle"  >10</text>
<text x="656.3" y="77.2" font-size="34.7" text-anchor="start"  >10 MK</text>
<text x="480.4" y="166.4" font-size="34.7" text-anchor="start"  >5 MK</text>
<text x="411.6" y="249.7" font-size="34.7" text-anchor="start"  >2 MK</text>
<text x="322.6" y="579.8" font-size="40.5" text-anchor="start"  xml:space="preserve">Photon energy  (keV)</text>
<g transform="translate(52.3,441) rotate(-90)"><text x="0" y="0" font-size="40.4" xml:space="preserve"><tspan font-style="italic">H</tspan><tspan font-size="23" dy="16">E</tspan><tspan x="43.3" dy="-16"> (erg s</tspan><tspan x="143.2" dy="-22.7" font-size="23">-1</tspan><tspan x="163.0" dy="22.7"> cm</tspan><tspan x="220.6" dy="-22.7" font-size="23">-2</tspan><tspan x="240.2" dy="22.7"> keV</tspan><tspan x="317.3" dy="-22.7" font-size="23">-1</tspan><tspan x="335.8" dy="22.7"> sr</tspan><tspan x="375.1" dy="-22.7" font-size="23">-1</tspan><tspan x="394.2" dy="22.7">)</tspan></text></g>
<clipPath id="c2"><rect x="177.7" y="666.2" width="639.7" height="458.6"/></clipPath>
<rect x="178.0" y="667.0" width="638.6" height="457.0" fill="none" stroke="#000" stroke-width="2.9" stroke-linejoin="round"/>
<line x1="205.9" y1="1122.8" x2="205.9" y2="1117.9" stroke="#000" stroke-width="2.9" stroke-linecap="round"/>
<line x1="205.9" y1="668.2" x2="205.9" y2="673.1" stroke="#000" stroke-width="2.9" stroke-linecap="round"/>
<line x1="259.3" y1="1122.8" x2="259.3" y2="1111.4" stroke="#000" stroke-width="2.9" stroke-linecap="round"/>
<line x1="259.3" y1="668.2" x2="259.3" y2="679.6" stroke="#000" stroke-width="2.9" stroke-linecap="round"/>
<line x1="312.7" y1="1122.8" x2="312.7" y2="1117.9" stroke="#000" stroke-width="2.9" stroke-linecap="round"/>
<line x1="312.7" y1="668.2" x2="312.7" y2="673.1" stroke="#000" stroke-width="2.9" stroke-linecap="round"/>
<line x1="366.1" y1="1122.8" x2="366.1" y2="1111.4" stroke="#000" stroke-width="2.9" stroke-linecap="round"/>
<line x1="366.1" y1="668.2" x2="366.1" y2="679.6" stroke="#000" stroke-width="2.9" stroke-linecap="round"/>
<line x1="419.4" y1="1122.8" x2="419.4" y2="1117.9" stroke="#000" stroke-width="2.9" stroke-linecap="round"/>
<line x1="419.4" y1="668.2" x2="419.4" y2="673.1" stroke="#000" stroke-width="2.9" stroke-linecap="round"/>
<line x1="472.8" y1="1122.8" x2="472.8" y2="1111.4" stroke="#000" stroke-width="2.9" stroke-linecap="round"/>
<line x1="472.8" y1="668.2" x2="472.8" y2="679.6" stroke="#000" stroke-width="2.9" stroke-linecap="round"/>
<line x1="526.2" y1="1122.8" x2="526.2" y2="1117.9" stroke="#000" stroke-width="2.9" stroke-linecap="round"/>
<line x1="526.2" y1="668.2" x2="526.2" y2="673.1" stroke="#000" stroke-width="2.9" stroke-linecap="round"/>
<line x1="579.6" y1="1122.8" x2="579.6" y2="1111.4" stroke="#000" stroke-width="2.9" stroke-linecap="round"/>
<line x1="579.6" y1="668.2" x2="579.6" y2="679.6" stroke="#000" stroke-width="2.9" stroke-linecap="round"/>
<line x1="633" y1="1122.8" x2="633" y2="1117.9" stroke="#000" stroke-width="2.9" stroke-linecap="round"/>
<line x1="633" y1="668.2" x2="633" y2="673.1" stroke="#000" stroke-width="2.9" stroke-linecap="round"/>
<line x1="686.3" y1="1122.8" x2="686.3" y2="1111.4" stroke="#000" stroke-width="2.9" stroke-linecap="round"/>
<line x1="686.3" y1="668.2" x2="686.3" y2="679.6" stroke="#000" stroke-width="2.9" stroke-linecap="round"/>
<line x1="739.7" y1="1122.8" x2="739.7" y2="1117.9" stroke="#000" stroke-width="2.9" stroke-linecap="round"/>
<line x1="739.7" y1="668.2" x2="739.7" y2="673.1" stroke="#000" stroke-width="2.9" stroke-linecap="round"/>
<line x1="793.1" y1="1122.8" x2="793.1" y2="1111.4" stroke="#000" stroke-width="2.9" stroke-linecap="round"/>
<line x1="793.1" y1="668.2" x2="793.1" y2="679.6" stroke="#000" stroke-width="2.9" stroke-linecap="round"/>
<line x1="179.2" y1="1094.6" x2="184.1" y2="1094.6" stroke="#000" stroke-width="2.9" stroke-linecap="round"/>
<line x1="815.4" y1="1094.6" x2="810.5" y2="1094.6" stroke="#000" stroke-width="2.9" stroke-linecap="round"/>
<line x1="179.2" y1="1069.5" x2="184.1" y2="1069.5" stroke="#000" stroke-width="2.9" stroke-linecap="round"/>
<line x1="815.4" y1="1069.5" x2="810.5" y2="1069.5" stroke="#000" stroke-width="2.9" stroke-linecap="round"/>
<line x1="179.2" y1="1051.7" x2="184.1" y2="1051.7" stroke="#000" stroke-width="2.9" stroke-linecap="round"/>
<line x1="815.4" y1="1051.7" x2="810.5" y2="1051.7" stroke="#000" stroke-width="2.9" stroke-linecap="round"/>
<line x1="179.2" y1="1037.9" x2="184.1" y2="1037.9" stroke="#000" stroke-width="2.9" stroke-linecap="round"/>
<line x1="815.4" y1="1037.9" x2="810.5" y2="1037.9" stroke="#000" stroke-width="2.9" stroke-linecap="round"/>
<line x1="179.2" y1="1026.6" x2="184.1" y2="1026.6" stroke="#000" stroke-width="2.9" stroke-linecap="round"/>
<line x1="815.4" y1="1026.6" x2="810.5" y2="1026.6" stroke="#000" stroke-width="2.9" stroke-linecap="round"/>
<line x1="179.2" y1="1017.1" x2="184.1" y2="1017.1" stroke="#000" stroke-width="2.9" stroke-linecap="round"/>
<line x1="815.4" y1="1017.1" x2="810.5" y2="1017.1" stroke="#000" stroke-width="2.9" stroke-linecap="round"/>
<line x1="179.2" y1="1008.8" x2="184.1" y2="1008.8" stroke="#000" stroke-width="2.9" stroke-linecap="round"/>
<line x1="815.4" y1="1008.8" x2="810.5" y2="1008.8" stroke="#000" stroke-width="2.9" stroke-linecap="round"/>
<line x1="179.2" y1="1001.5" x2="184.1" y2="1001.5" stroke="#000" stroke-width="2.9" stroke-linecap="round"/>
<line x1="815.4" y1="1001.5" x2="810.5" y2="1001.5" stroke="#000" stroke-width="2.9" stroke-linecap="round"/>
<line x1="179.2" y1="995" x2="190.6" y2="995" stroke="#000" stroke-width="2.9" stroke-linecap="round"/>
<line x1="815.4" y1="995" x2="804" y2="995" stroke="#000" stroke-width="2.9" stroke-linecap="round"/>
<line x1="179.2" y1="952.1" x2="184.1" y2="952.1" stroke="#000" stroke-width="2.9" stroke-linecap="round"/>
<line x1="815.4" y1="952.1" x2="810.5" y2="952.1" stroke="#000" stroke-width="2.9" stroke-linecap="round"/>
<line x1="179.2" y1="927" x2="184.1" y2="927" stroke="#000" stroke-width="2.9" stroke-linecap="round"/>
<line x1="815.4" y1="927" x2="810.5" y2="927" stroke="#000" stroke-width="2.9" stroke-linecap="round"/>
<line x1="179.2" y1="909.2" x2="184.1" y2="909.2" stroke="#000" stroke-width="2.9" stroke-linecap="round"/>
<line x1="815.4" y1="909.2" x2="810.5" y2="909.2" stroke="#000" stroke-width="2.9" stroke-linecap="round"/>
<line x1="179.2" y1="895.4" x2="184.1" y2="895.4" stroke="#000" stroke-width="2.9" stroke-linecap="round"/>
<line x1="815.4" y1="895.4" x2="810.5" y2="895.4" stroke="#000" stroke-width="2.9" stroke-linecap="round"/>
<line x1="179.2" y1="884.1" x2="184.1" y2="884.1" stroke="#000" stroke-width="2.9" stroke-linecap="round"/>
<line x1="815.4" y1="884.1" x2="810.5" y2="884.1" stroke="#000" stroke-width="2.9" stroke-linecap="round"/>
<line x1="179.2" y1="874.6" x2="184.1" y2="874.6" stroke="#000" stroke-width="2.9" stroke-linecap="round"/>
<line x1="815.4" y1="874.6" x2="810.5" y2="874.6" stroke="#000" stroke-width="2.9" stroke-linecap="round"/>
<line x1="179.2" y1="866.3" x2="184.1" y2="866.3" stroke="#000" stroke-width="2.9" stroke-linecap="round"/>
<line x1="815.4" y1="866.3" x2="810.5" y2="866.3" stroke="#000" stroke-width="2.9" stroke-linecap="round"/>
<line x1="179.2" y1="859" x2="184.1" y2="859" stroke="#000" stroke-width="2.9" stroke-linecap="round"/>
<line x1="815.4" y1="859" x2="810.5" y2="859" stroke="#000" stroke-width="2.9" stroke-linecap="round"/>
<line x1="179.2" y1="852.5" x2="190.6" y2="852.5" stroke="#000" stroke-width="2.9" stroke-linecap="round"/>
<line x1="815.4" y1="852.5" x2="804" y2="852.5" stroke="#000" stroke-width="2.9" stroke-linecap="round"/>
<line x1="179.2" y1="809.6" x2="184.1" y2="809.6" stroke="#000" stroke-width="2.9" stroke-linecap="round"/>
<line x1="815.4" y1="809.6" x2="810.5" y2="809.6" stroke="#000" stroke-width="2.9" stroke-linecap="round"/>
<line x1="179.2" y1="784.5" x2="184.1" y2="784.5" stroke="#000" stroke-width="2.9" stroke-linecap="round"/>
<line x1="815.4" y1="784.5" x2="810.5" y2="784.5" stroke="#000" stroke-width="2.9" stroke-linecap="round"/>
<line x1="179.2" y1="766.7" x2="184.1" y2="766.7" stroke="#000" stroke-width="2.9" stroke-linecap="round"/>
<line x1="815.4" y1="766.7" x2="810.5" y2="766.7" stroke="#000" stroke-width="2.9" stroke-linecap="round"/>
<line x1="179.2" y1="752.9" x2="184.1" y2="752.9" stroke="#000" stroke-width="2.9" stroke-linecap="round"/>
<line x1="815.4" y1="752.9" x2="810.5" y2="752.9" stroke="#000" stroke-width="2.9" stroke-linecap="round"/>
<line x1="179.2" y1="741.6" x2="184.1" y2="741.6" stroke="#000" stroke-width="2.9" stroke-linecap="round"/>
<line x1="815.4" y1="741.6" x2="810.5" y2="741.6" stroke="#000" stroke-width="2.9" stroke-linecap="round"/>
<line x1="179.2" y1="732.1" x2="184.1" y2="732.1" stroke="#000" stroke-width="2.9" stroke-linecap="round"/>
<line x1="815.4" y1="732.1" x2="810.5" y2="732.1" stroke="#000" stroke-width="2.9" stroke-linecap="round"/>
<line x1="179.2" y1="723.8" x2="184.1" y2="723.8" stroke="#000" stroke-width="2.9" stroke-linecap="round"/>
<line x1="815.4" y1="723.8" x2="810.5" y2="723.8" stroke="#000" stroke-width="2.9" stroke-linecap="round"/>
<line x1="179.2" y1="716.5" x2="184.1" y2="716.5" stroke="#000" stroke-width="2.9" stroke-linecap="round"/>
<line x1="815.4" y1="716.5" x2="810.5" y2="716.5" stroke="#000" stroke-width="2.9" stroke-linecap="round"/>
<line x1="179.2" y1="710" x2="190.6" y2="710" stroke="#000" stroke-width="2.9" stroke-linecap="round"/>
<line x1="815.4" y1="710" x2="804" y2="710" stroke="#000" stroke-width="2.9" stroke-linecap="round"/>
<path d="M227.1 1037.4 L228.1 1037.4 L229.1 1037.4 L230.1 1037.4 L231.1 1037.4 L232.1 1037.4 L233.2 1037.4 L234.2 1037.4 L235.2 1037.4 L236.2 1037.4 L236.4 1037.4 M250.2 1037.4 L250.3 1037.4 L251.3 1037.4 L252.3 1037.4 L253.3 1037.4 L254.4 1037.4 L255.4 1037.4 L256.4 1037.4 L257.4 1037.4 L258.4 1037.4 L259.4 1037.4 L259.4 1037.4 M273.2 1037.4 L273.5 1037.4 L274.6 1037.4 L275.6 1037.4 L276.6 1037.4 L277.6 1037.4 L278.6 1037.4 L279.6 1037.4 L280.6 1037.4 L281.6 1037.4 L282.5 1037.4 M296.2 1037.4 L296.8 1037.4 L297.8 1037.4 L298.8 1037.4 L299.8 1037.4 L300.8 1037.4 L301.8 1037.4 L302.8 1037.4 L303.8 1037.4 L304.8 1037.4 L305.6 1037.4 M319.3 1037.4 L320 1037.4 L321 1037.4 L322 1037.4 L323 1037.3 L324 1037.3 L325 1037.2 L326 1037.1 L327 1037.1 L328 1037 L328.6 1037 M342.4 1036.3 L343 1036.2 L344 1036.2 L345 1036.1 L346 1036.1 L347 1036 L348 1036 L349 1035.9 L350 1035.8 L350.9 1035.8 L351.6 1035.7 M365.4 1034.5 L365.9 1034.5 L366.9 1034.4 L367.9 1034.2 L368.9 1034.1 L369.9 1034 L370.8 1033.8 L371.8 1033.7 L372.8 1033.6 L373.8 1033.4 L374.7 1033.3 M388.5 1030.8 L388.6 1030.7 L389.6 1030.5 L390.5 1030.3 L391.5 1030.1 L392.5 1029.9 L393.5 1029.7 L394.4 1029.4 L395.4 1029.2 L396.4 1029 L397.4 1028.7 L397.8 1028.6 M411.5 1024.9 L411.8 1024.8 L412.8 1024.5 L413.7 1024.2 L414.7 1023.9 L415.6 1023.6 L416.6 1023.3 L417.5 1023 L418.5 1022.7 L419.4 1022.4 L420.4 1022.1 L420.8 1022 M434.6 1017.1 L435.5 1016.7 L436.4 1016.4 L437.3 1016 L438.3 1015.7 L439.2 1015.3 L440.1 1014.9 L441 1014.6 L442 1014.2 L442.9 1013.8 L443.8 1013.4 L443.9 1013.4 M457.6 1007.6 L457.6 1007.6 L458.6 1007.2 L459.5 1006.7 L460.4 1006.3 L461.3 1005.9 L462.2 1005.5 L463.1 1005.1 L464 1004.7 L465 1004.3 L465.9 1003.8 L466.8 1003.4 L466.9 1003.4 M480.7 996.7 L481.2 996.5 L482.1 996 L483 995.6 L483.9 995.1 L484.8 994.7 L485.7 994.2 L486.6 993.8 L487.5 993.3 L488.4 992.9 L489.3 992.4 L490 992.1 M503.7 985 L504.5 984.6 L505.4 984.1 L506.2 983.6 L507.1 983.2 L508 982.7 L508.9 982.2 L509.8 981.8 L510.7 981.3 L511.6 980.8 L512.4 980.3 L513 980 M526.8 972.7 L527.4 972.3 L528.3 971.8 L529.2 971.4 L530.1 970.9 L530.9 970.4 L531.8 969.9 L532.7 969.4 L533.6 969 L534.4 968.5 L535.3 968 L536.1 967.6 M549.8 960 L550.2 959.8 L551 959.3 L551.9 958.8 L552.8 958.3 L553.6 957.8 L554.5 957.3 L555.4 956.8 L556.2 956.3 L557.1 955.8 L558 955.3 L558.8 954.8 L559.1 954.7 M572.9 946.6 L573.5 946.2 L574.3 945.7 L575.2 945.2 L576.1 944.7 L576.9 944.2 L577.8 943.6 L578.6 943.1 L579.5 942.6 L580.4 942.1 L581.2 941.6 L582.1 941.1 L582.2 941 M595.9 932.7 L596.6 932.2 L597.5 931.7 L598.3 931.2 L599.2 930.6 L600.1 930.1 L600.9 929.6 L601.8 929.1 L602.6 928.6 L603.5 928 L604.3 927.5 L605.2 927 L605.2 927 M619 918.6 L619.7 918.1 L620.6 917.6 L621.5 917.1 L622.3 916.6 L623.2 916.1 L624 915.5 L624.9 915 L625.7 914.5 L626.6 914 L627.5 913.5 L628.3 913 M642 904.7 L642 904.7 L642.9 904.2 L643.7 903.7 L644.6 903.2 L645.5 902.6 L646.3 902.1 L647.2 901.6 L648 901.1 L648.9 900.6 L649.7 900 L650.6 899.5 L651.3 899.1 M665.1 890.7 L665.1 890.6 L666 890.1 L666.8 889.6 L667.7 889.1 L668.5 888.5 L669.4 888 L670.2 887.5 L671.1 887 L671.9 886.4 L672.8 885.9 L673.6 885.4 L674.4 884.9 M688.1 876.3 L688.9 875.8 L689.7 875.3 L690.6 874.8 L691.4 874.2 L692.3 873.7 L693.1 873.2 L694 872.6 L694.8 872.1 L695.7 871.6 L696.5 871 L697.4 870.5 L697.4 870.5 M711.2 861.7 L711.7 861.4 L712.6 860.8 L713.4 860.3 L714.3 859.8 L715.1 859.2 L715.9 858.7 L716.8 858.1 L717.6 857.6 L718.5 857.1 L719.3 856.5 L720.2 856 L720.5 855.8 M734.2 847 L734.5 846.8 L735.4 846.3 L736.2 845.8 L737 845.2 L737.9 844.7 L738.7 844.1 L739.6 843.6 L740.4 843.1 L741.3 842.5 L742.1 842 L742.9 841.4 L743.5 841.1 M757.3 832.3 L757.3 832.3 L758.1 831.7 L759 831.2 L759.8 830.6 L760.7 830.1 L761.5 829.6 L762.3 829 L763.2 828.5 L764 827.9 L764.9 827.4 L765.7 826.9 L766.6 826.3 M780.3 817.6 L780.9 817.2 L781.8 816.7 L782.6 816.1 L783.5 815.6 L784.3 815 L785.2 814.5 L786 814 L786.8 813.4 L787.7 812.9 L788.5 812.4 L789.4 811.8 L789.6 811.7 M803.4 803.1 L803.8 802.8 L804.6 802.2 L805.5 801.7 L806.3 801.2 L807.2 800.7 L808 800.1 L808.9 799.6 L809.7 799.1 L810.6 798.5 L811.4 798 L812.3 797.5 L812.6 797.3" fill="none" stroke="#2e3192" stroke-width="2.9" stroke-linejoin="round" stroke-linecap="round" clip-path="url(#c2)"/>
<path d="M227.1 914.8 L228.1 914.8 L229.1 914.7 L230.1 914.7 L231.1 914.7 L232.1 914.7 L233.1 914.7 L234.2 914.8 L235.2 914.8 L236.2 914.9 L237.2 915 L238.2 915.1 L239.2 915.3 L240.1 915.4 L241.1 915.6 L242.1 915.8 L243.1 916 L244.1 916.2 L245.1 916.4 L246 916.7 L247 916.9 L248 917.2 L248.9 917.5 L249.9 917.8 L250.8 918.2 L251.8 918.5 L252.7 918.9 L253.6 919.2 L254.5 919.6 L255.5 920 L256.4 920.4 L257.3 920.9 L258.2 921.3 L259.1 921.8 L259.9 922.2 L260.8 922.7 L261.7 923.2 L262.6 923.7 L263.4 924.2 L264.3 924.8 L265.1 925.3 L265.9 925.9 L266.7 926.5 L267.6 927.1 L268.4 927.7 L269.1 928.3 L269.9 928.9 L270.7 929.6 L271.5 930.2 L272.2 930.9 L273 931.5 L273.7 932.2 L274.4 932.9 L275.1 933.6 L275.8 934.4 L276.5 935.1 L277.2 935.8 L277.9 936.6 L278.5 937.3 L279.2 938.1 L279.8 938.9 L280.4 939.7 L281 940.5 L281.6 941.3 L282.2 942.1 L282.7 943 L283.3 943.8 L283.9 944.6 L284.2 945.6 L284.4 946.6 L284.6 947.6 L284.8 948.6 L285 949.6 L285.2 950.5 L285.4 951.5 L285.6 952.5 L285.8 953.5 L286 954.5 L286.1 955.5 L286.3 956.5 L286.5 957.5 L286.7 958.5 L286.8 959.5 L287 960.5 L287.2 961.5 L287.3 962.5 L287.5 963.5 L287.6 964.5 L287.8 965.5 L288 966.5 L288.1 967.5 L288.3 968.5 L288.5 969.5 L288.6 970.5 L288.8 971.6 L289 972.6 L289.1 973.6 L289.3 974.6 L289.5 975.6 L289.7 976.5 L289.9 977.5 L290.1 978.5 L290.2 979.5 L290.4 980.5 L290.6 981.5 L290.9 982.5 L291.1 983.5 L291.3 984.5 L291.5 985.5 L292.1 986.3 L292.8 987.1 L293.5 987.8 L294.3 988.5 L295.1 989.2 L295.9 989.8 L296.7 990.3 L297.6 990.9 L298.5 991.4 L299.4 991.8 L300.3 992.2 L301.3 992.6 L302.2 992.9 L303.2 993.2 L304.2 993.5 L305.2 993.7 L306.2 993.9 L307.2 994.1 L308.3 994.3 L309.3 994.4 L310.3 994.5 L311.3 994.6 L312.3 994.6 L313.3 995 L314.2 995.5 L315 996.1 L315.8 996.7 L316.5 997.4 L317.3 998.1 L317.9 998.8 L318.6 999.5 L319.2 1000.3 L319.9 1001 L320.5 1001.8 L321.2 1002.6 L321.8 1003.3 L322.5 1004.1 L323.1 1004.8 L323.8 1005.6 L324.4 1006.4 L325.1 1007.1 L325.8 1007.9 L326.4 1008.6 L327.1 1009.3 L327.8 1010.1 L328.5 1010.8 L329.2 1011.5 L329.9 1012.2 L330.6 1012.9 L331.3 1013.6 L332 1014.3 L332.8 1015 L333.5 1015.6 L334.2 1016.3 L335 1016.9 L335.8 1017.5 L336.6 1018.1 L337.4 1018.7 L338.2 1019.3 L339 1019.8 L339.8 1020.4 L340.7 1020.9 L341.5 1021.4 L342.4 1021.9 L343.3 1022.4 L344.1 1022.8 L345 1023.3 L345.9 1023.7 L346.8 1024.1 L347.8 1024.5 L348.7 1024.9 L349.6 1025.3 L350.6 1025.6 L351.5 1026 L352.5 1026.3 L353.4 1026.6 L354.4 1026.9 L355.3 1027.2 L356.3 1027.5 L357.3 1027.7 L358.3 1028 L359.3 1028.2 L360.3 1028.4 L361.3 1028.6 L362.3 1028.8 L363.3 1029 L364.3 1029.1 L365.3 1029.3 L366.3 1029.4 L367.3 1029.5 L368.3 1029.6 L369.3 1029.7 L370.3 1029.8 L371.3 1029.8 L372.3 1029.9 L373.3 1029.9 L374.3 1029.9 L375.3 1029.9 L376.4 1029.9 L377.4 1029.9 L378.4 1029.9 L379.4 1029.8 L380.3 1029.8 L381.3 1029.7 L382.3 1029.6 L383.3 1029.5 L384.3 1029.4 L385.3 1029.3 L386.3 1029.2 L387.3 1029.1 L388.2 1028.9 L389.2 1028.8 L390.2 1028.6 L391.2 1028.4 L392.2 1028.2 L393.1 1028.1 L394.1 1027.9 L395.1 1027.6 L396 1027.4 L397 1027.2 L398 1027 L398.9 1026.7 L399.9 1026.5 L400.9 1026.2 L401.8 1026 L402.8 1025.7 L403.8 1025.5 L404.7 1025.2 L405.7 1024.9 L406.6 1024.6 L407.6 1024.3 L408.5 1024 L409.5 1023.7 L410.5 1023.4 L411.4 1023.1 L412.4 1022.8 L413.3 1022.5 L414.3 1022.2 L415.2 1021.9 L416.2 1021.6 L417.1 1021.3 L418.1 1020.9 L419 1020.6 L420 1020.3 L420.9 1020 L421.9 1019.6 L422.8 1019.3 L423.8 1019 L424.7 1018.7 L425.7 1018.3 L426.6 1018 L427.6 1017.7 L428.5 1017.4 L429.5 1017 L430.4 1016.7 L431.4 1016.4 L432.3 1016.1 L433.3 1015.7 L434.2 1015.4 L435.2 1015.1 L436.1 1014.8 L437 1014.4 L438 1014.1 L438.9 1013.8 L439.9 1013.4 L440.8 1013.1 L441.8 1012.8 L442.7 1012.4 L443.6 1012.1 L444.6 1011.7 L445.5 1011.4 L446.4 1011 L447.4 1010.7 L448.3 1010.3 L449.3 1010 L450.2 1009.6 L451.1 1009.3 L452 1008.9 L453 1008.5 L453.9 1008.2 L454.8 1007.8 L455.8 1007.4 L456.7 1007 L457.6 1006.6 L458.5 1006.2 L459.4 1005.9 L460.4 1005.5 L461.3 1005.1 L462.2 1004.7 L463.1 1004.3 L464 1003.8 L464.9 1003.4 L465.8 1003 L466.7 1002.6 L467.7 1002.2 L468.6 1001.8 L469.5 1001.3 L470.4 1000.9 L471.3 1000.5 L472.2 1000.1 L473.1 999.6 L474 999.2 L474.9 998.8 L475.8 998.4 L476.7 997.9 L477.6 997.5 L478.5 997.1 L479.4 996.6 L480.3 996.2 L481.2 995.8 L482.1 995.3 L483 994.9 L483.9 994.5 L484.8 994 L485.7 993.6 L486.6 993.2 L487.5 992.7 L488.4 992.3 L489.3 991.8 L490.2 991.4 L491.1 991 L492 990.5 L492.9 990.1 L493.8 989.6 L494.7 989.2 L495.6 988.8 L496.5 988.3 L497.4 987.9 L498.3 987.4 L499.2 987 L500.1 986.5 L501 986.1 L501.9 985.6 L502.8 985.2 L503.7 984.7 L504.6 984.3 L505.5 983.8 L506.4 983.4 L507.3 982.9 L508.2 982.5 L509.1 982 L509.9 981.6 L510.8 981.1 L511.7 980.7 L512.6 980.2 L513.5 979.7 L514.4 979.3 L515.3 978.8 L516.2 978.4 L517.1 977.9 L517.9 977.4 L518.8 977 L519.7 976.5 L520.6 976 L521.5 975.6 L522.4 975.1 L523.3 974.6 L524.1 974.2 L525 973.7 L525.9 973.2 L526.8 972.7 L527.7 972.3 L528.5 971.8 L529.4 971.3 L530.3 970.8 L531.2 970.4 L532.1 969.9 L532.9 969.4 L533.8 968.9 L534.7 968.4 L535.6 967.9 L536.4 967.5 L537.3 967 L538.2 966.5 L539.1 966 L539.9 965.5 L540.8 965 L541.7 964.5 L542.5 964 L543.4 963.5 L544.3 963 L545.2 962.5 L546 962 L546.9 961.5 L547.7 961 L548.6 960.5 L549.5 960 L550.3 959.5 L551.2 959 L552.1 958.5 L552.9 958 L553.8 957.5 L554.6 957 L555.5 956.5 L556.4 956 L557.2 955.4 L558.1 954.9 L558.9 954.4 L559.8 953.9 L560.6 953.4 L561.5 952.9 L562.4 952.3 L563.2 951.8 L564.1 951.3 L564.9 950.8 L565.8 950.3 L566.6 949.7 L567.5 949.2 L568.3 948.7 L569.2 948.2 L570 947.6 L570.9 947.1 L571.7 946.6 L572.6 946.1 L573.4 945.5 L574.3 945 L575.1 944.5 L576 944 L576.9 943.4 L577.7 942.9 L578.6 942.4 L579.4 941.9 L580.3 941.4 L581.1 940.8 L582 940.3 L582.8 939.8 L583.7 939.3 L584.5 938.8 L585.4 938.2 L586.3 937.7 L587.1 937.2 L588 936.7 L588.8 936.2 L589.7 935.7 L590.6 935.2 L591.4 934.7 L592.3 934.1 L593.1 933.6 L594 933.1 L594.9 932.6 L595.7 932.1 L596.6 931.6 L597.4 931.1 L598.3 930.6 L599.2 930.1 L600 929.6 L600.9 929.1 L601.8 928.5 L602.6 928 L603.5 927.5 L604.3 927 L605.2 926.5 L606.1 926 L606.9 925.5 L607.8 925 L608.7 924.5 L609.5 924 L610.4 923.5 L611.3 923 L612.1 922.5 L613 922 L613.8 921.5 L614.7 921 L615.6 920.4 L616.4 919.9 L617.3 919.4 L618.1 918.9 L619 918.4 L619.9 917.9 L620.7 917.4 L621.6 916.9 L622.5 916.4 L623.3 915.9 L624.2 915.3 L625 914.8 L625.9 914.3 L626.8 913.8 L627.6 913.3 L628.5 912.8 L629.3 912.3 L630.2 911.7 L631 911.2 L631.9 910.7 L632.8 910.2 L633.6 909.7 L634.5 909.2 L635.3 908.7 L636.2 908.1 L637 907.6 L637.9 907.1 L638.8 906.6 L639.6 906.1 L640.5 905.5 L641.3 905 L642.2 904.5 L643 904 L643.9 903.5 L644.7 902.9 L645.6 902.4 L646.4 901.9 L647.3 901.4 L648.2 900.9 L649 900.3 L649.9 899.8 L650.7 899.3 L651.6 898.8 L652.4 898.2 L653.3 897.7 L654.1 897.2 L655 896.7 L655.8 896.1 L656.7 895.6 L657.5 895.1 L658.4 894.6 L659.2 894 L660.1 893.5 L660.9 893 L661.8 892.5 L662.6 891.9 L663.5 891.4 L664.3 890.9 L665.2 890.4 L666 889.8 L666.9 889.3 L667.7 888.8 L668.6 888.2 L669.4 887.7 L670.3 887.2 L671.1 886.7 L672 886.1 L672.8 885.6 L673.7 885.1 L674.5 884.5 L675.4 884 L676.2 883.5 L677.1 882.9 L677.9 882.4 L678.8 881.9 L679.6 881.4 L680.5 880.8 L681.3 880.3 L682.2 879.8 L683 879.2 L683.9 878.7 L684.7 878.2 L685.6 877.6 L686.4 877.1 L687.2 876.6 L688.1 876 L688.9 875.5 L689.8 875 L690.6 874.4 L691.5 873.9 L692.3 873.4 L693.2 872.8 L694 872.3 L694.9 871.7 L695.7 871.2 L696.5 870.7 L697.4 870.1 L698.2 869.6 L699.1 869.1 L699.9 868.5 L700.8 868 L701.6 867.5 L702.5 866.9 L703.3 866.4 L704.2 865.9 L705 865.3 L705.8 864.8 L706.7 864.2 L707.5 863.7 L708.4 863.2 L709.2 862.6 L710.1 862.1 L710.9 861.6 L711.8 861 L712.6 860.5 L713.4 859.9 L714.3 859.4 L715.1 858.9 L716 858.3 L716.8 857.8 L717.7 857.3 L718.5 856.7 L719.4 856.2 L720.2 855.6 L721 855.1 L721.9 854.6 L722.7 854 L723.6 853.5 L724.4 852.9 L725.3 852.4 L726.1 851.9 L726.9 851.3 L727.8 850.8 L728.6 850.3 L729.5 849.7 L730.3 849.2 L731.2 848.6 L732 848.1 L732.8 847.6 L733.7 847 L734.5 846.5 L735.4 845.9 L736.2 845.4 L737.1 844.9 L737.9 844.3 L738.7 843.8 L739.6 843.2 L740.4 842.7 L741.3 842.2 L742.1 841.6 L743 841.1 L743.8 840.6 L744.7 840 L745.5 839.5 L746.3 838.9 L747.2 838.4 L748 837.9 L748.9 837.3 L749.7 836.8 L750.6 836.2 L751.4 835.7 L752.2 835.2 L753.1 834.6 L753.9 834.1 L754.8 833.5 L755.6 833 L756.5 832.5 L757.3 831.9 L758.1 831.4 L759 830.9 L759.8 830.3 L760.7 829.8 L761.5 829.2 L762.4 828.7 L763.2 828.2 L764.1 827.6 L764.9 827.1 L765.7 826.5 L766.6 826 L767.4 825.5 L768.3 824.9 L769.1 824.4 L770 823.9 L770.8 823.3 L771.6 822.8 L772.5 822.2 L773.3 821.7 L774.2 821.2 L775 820.6 L775.9 820.1 L776.7 819.6 L777.6 819 L778.4 818.5 L779.3 818 L780.1 817.4 L780.9 816.9 L781.8 816.3 L782.6 815.8 L783.5 815.3 L784.3 814.7 L785.2 814.2 L786 813.7 L786.9 813.1 L787.7 812.6 L788.6 812.1 L789.4 811.5 L790.2 811 L791.1 810.5 L791.9 809.9 L792.8 809.4 L793.6 808.9 L794.5 808.3 L795.3 807.8 L796.2 807.3 L797 806.7 L797.9 806.2 L798.7 805.7 L799.6 805.1 L800.4 804.6 L801.3 804.1 L802.1 803.5 L803 803 L803.8 802.5 L804.7 802 L805.5 801.4 L806.3 800.9 L807.2 800.4 L808 799.8 L808.9 799.3 L809.7 798.8 L810.6 798.2 L811.4 797.7 L812.3 797.2 L813.1 796.7 L814 796.1 L814.8 795.6 L815.7 795.1 L816.5 794.5 L817.4 794 L818.2 793.5 L819.1 793 L819.9 792.4 L820.8 791.9 L821.6 791.4 L822.5 790.9 L823.4 790.3 L824.2 789.8 L825 789.2" fill="none" stroke="#ed1c24" stroke-width="2.9" stroke-linejoin="round" stroke-linecap="round" clip-path="url(#c2)"/>
<path d="M227.1 979.8 L228.1 979.8 L229.1 979.8 L230.1 979.8 L231.1 979.8 L232.1 979.8 L233.2 979.8 L234.2 979.8 L235.2 979.8 L236.2 979.8 L236.4 979.8 M250.2 979.8 L250.3 979.8 L251.3 979.8 L252.3 979.8 L253.3 979.8 L254.4 979.8 L255.4 979.8 L256.4 979.8 L257.4 979.8 L258.4 979.8 L259.4 979.8 L259.4 979.8 M273.2 979.8 L273.5 979.8 L274.5 979.8 L275.5 979.8 L276.6 979.8 L277.6 979.8 L278.6 979.8 L279.6 979.8 L280.6 979.8 L281.6 979.8 L282.5 979.8 M296.2 979.8 L296.7 979.8 L297.7 979.8 L298.8 979.8 L299.8 979.8 L300.8 979.8 L301.8 979.8 L302.8 979.8 L303.8 979.8 L304.8 979.8 L305.6 979.8 M319.3 979.8 L320 979.8 L321 979.8 L322 979.8 L323 979.8 L324 979.8 L325 979.8 L326 979.8 L327 979.8 L328 979.8 L328.6 979.8 M342.4 979.7 L342.9 979.7 L343.9 979.7 L344.9 979.7 L345.9 979.7 L346.9 979.7 L347.9 979.6 L348.9 979.6 L349.9 979.6 L350.9 979.6 L351.6 979.6 M365.4 979.2 L365.9 979.1 L366.9 979.1 L367.9 979 L368.9 979 L369.9 979 L370.9 978.9 L371.9 978.9 L372.9 978.8 L373.9 978.8 L374.7 978.7 M388.5 977.8 L389 977.8 L390 977.7 L391 977.6 L392 977.5 L393 977.4 L394 977.3 L395 977.2 L396 977.1 L397 977 L397.8 977 M411.5 975.4 L412 975.3 L413 975.2 L414 975.1 L415 974.9 L416 974.8 L417 974.6 L418 974.5 L419 974.3 L420 974.2 L420.8 974 M434.6 971.6 L434.8 971.6 L435.7 971.4 L436.7 971.2 L437.7 971 L438.7 970.8 L439.7 970.5 L440.6 970.3 L441.6 970.1 L442.6 969.9 L443.6 969.7 L443.9 969.6 M457.6 966.1 L458.1 965.9 L459 965.7 L460 965.4 L460.9 965.1 L461.9 964.8 L462.8 964.5 L463.8 964.2 L464.7 963.9 L465.7 963.6 L466.6 963.3 L466.9 963.2 M480.7 958.4 L480.7 958.4 L481.7 958 L482.6 957.7 L483.5 957.3 L484.5 956.9 L485.4 956.6 L486.3 956.2 L487.2 955.8 L488.2 955.5 L489.1 955.1 L490 954.7 M503.7 948.7 L503.7 948.7 L504.6 948.3 L505.5 947.9 L506.4 947.5 L507.4 947 L508.3 946.6 L509.2 946.2 L510.1 945.7 L511 945.3 L511.9 944.9 L512.8 944.4 L513 944.3 M526.8 937.3 L527 937.1 L527.9 936.7 L528.8 936.2 L529.7 935.7 L530.6 935.2 L531.4 934.8 L532.3 934.3 L533.2 933.8 L534.1 933.3 L535 932.8 L535.8 932.3 L536.1 932.2 M549.8 924.4 L550.6 923.9 L551.5 923.4 L552.4 922.8 L553.2 922.3 L554.1 921.8 L555 921.3 L555.8 920.8 L556.7 920.3 L557.5 919.8 L558.4 919.2 L559.1 918.8 M572.9 910.3 L572.9 910.3 L573.7 909.8 L574.6 909.2 L575.4 908.7 L576.3 908.2 L577.1 907.6 L578 907.1 L578.8 906.6 L579.7 906 L580.5 905.5 L581.4 904.9 L582.2 904.4 M595.9 895.6 L596.5 895.2 L597.3 894.7 L598.2 894.1 L599 893.6 L599.9 893 L600.7 892.5 L601.5 891.9 L602.4 891.4 L603.2 890.9 L604.1 890.3 L604.9 889.8 L605.2 889.6 M619 880.7 L619.2 880.5 L620 880 L620.8 879.5 L621.7 878.9 L622.5 878.4 L623.4 877.8 L624.2 877.3 L625 876.7 L625.9 876.2 L626.7 875.7 L627.6 875.1 L628.3 874.7 M642 865.9 L642.7 865.4 L643.6 864.9 L644.4 864.4 L645.3 863.8 L646.1 863.3 L647 862.7 L647.8 862.2 L648.6 861.7 L649.5 861.1 L650.3 860.6 L651.2 860 L651.3 860 M665.1 851.2 L665.5 850.9 L666.3 850.3 L667.2 849.8 L668 849.3 L668.9 848.7 L669.7 848.2 L670.6 847.6 L671.4 847.1 L672.2 846.6 L673.1 846 L673.9 845.5 L674.4 845.2 M688.1 836.4 L688.2 836.3 L689.1 835.7 L689.9 835.2 L690.8 834.7 L691.6 834.1 L692.5 833.6 L693.3 833 L694.1 832.5 L695 832 L695.8 831.4 L696.7 830.9 L697.4 830.4 M711.2 821.6 L711.8 821.1 L712.7 820.6 L713.5 820 L714.3 819.5 L715.2 819 L716 818.4 L716.9 817.9 L717.7 817.3 L718.5 816.8 L719.4 816.2 L720.2 815.7 L720.5 815.6 M734.2 806.7 L734.5 806.5 L735.4 805.9 L736.2 805.4 L737.1 804.8 L737.9 804.3 L738.7 803.8 L739.6 803.2 L740.4 802.7 L741.3 802.1 L742.1 801.6 L742.9 801 L743.5 800.7 M757.3 791.8 L758.1 791.2 L758.9 790.7 L759.7 790.1 L760.6 789.6 L761.4 789.1 L762.3 788.5 L763.1 788 L763.9 787.4 L764.8 786.9 L765.6 786.3 L766.4 785.8 L766.6 785.7 M780.3 776.8 L780.7 776.5 L781.5 775.9 L782.4 775.4 L783.2 774.9 L784.1 774.3 L784.9 773.8 L785.7 773.2 L786.6 772.7 L787.4 772.1 L788.2 771.6 L789.1 771 L789.6 770.7 M803.4 761.7 L804.2 761.2 L805 760.6 L805.8 760.1 L806.7 759.5 L807.5 759 L808.3 758.4 L809.2 757.9 L810 757.3 L810.8 756.8 L811.7 756.2 L812.5 755.7 L812.7 755.6" fill="none" stroke="#2e3192" stroke-width="2.9" stroke-linejoin="round" stroke-linecap="round" clip-path="url(#c2)"/>
<path d="M227.1 867.3 L228.1 867.3 L229.1 867.3 L230.2 867.3 L231.2 867.3 L232.2 867.3 L233.2 867.3 L234.3 867.3 L235.3 867.3 L236.3 867.3 L237.3 867.3 L238.4 867.3 L239.4 867.3 L240.4 867.3 L241.4 867.3 L242.5 867.3 L243.5 867.3 L244.5 867.3 L245.5 867.3 L246.6 867.4 L247.6 867.4 L248.6 867.4 L249.6 867.4 L250.7 867.4 L251.7 867.4 L252.7 867.4 L253.7 867.4 L254.8 867.4 L255.8 867.4 L256.8 867.4 L257.8 867.4 L258.9 867.4 L259.9 867.4 L260.9 867.4 L261.9 867.4 L263 867.4 L264 867.4 L265 867.4 L266.1 867.3 L267 867.4 L268 867.5 L269 867.5 L270 867.6 L271 867.6 L271.9 867.7 L272.9 867.7 L273.9 867.7 L274.9 867.8 L275.9 867.8 L276.9 867.8 L277.9 867.9 L278.9 867.9 L279.9 867.9 L280.9 867.9 L281.9 867.9 L282.9 868 L283.9 868 L284.9 868 L285.9 868 L286.9 868 L287.9 868 L288.9 868 L289.9 868 L291 868 L292 868.1 L293 868.1 L294 868.1 L295 868.1 L296 868.1 L297 868.1 L298 868.1 L299.1 868.1 L300.1 868.1 L301.1 868.1 L302.1 868.1 L303.1 868.2 L304.1 868.2 L305.1 868.2 L306.2 868.2 L307.2 868.2 L308.2 868.3 L309.2 868.3 L310.2 868.3 L311.2 868.3 L312.2 868.4 L313.3 868.4 L314.3 868.4 L315.3 868.5 L316.3 868.5 L317.3 868.6 L318.3 868.6 L319.3 868.7 L320.3 868.7 L321.3 868.8 L322.3 868.9 L323.3 869 L324.4 869 L325.4 869.1 L326.4 869.2 L327.4 869.3 L328.4 869.4 L329.4 869.5 L330.4 869.6 L331.4 869.7 L332.3 869.8 L333.3 870 L334.3 870.1 L335.3 870.2 L336.3 870.4 L337.3 870.5 L338.3 870.7 L339.3 870.8 L340.3 871 L341.2 871.2 L342.2 871.4 L343.2 871.6 L344.2 871.8 L345.1 872 L346.1 872.2 L347.1 872.4 L348 872.6 L349 872.9 L350 873.1 L350.9 873.4 L351.9 873.7 L352.8 873.9 L353.8 874.2 L354.7 874.5 L355.7 874.9 L356.6 875.2 L357.5 875.5 L358.4 875.9 L359.4 876.2 L360.3 876.6 L361.2 877 L362.1 877.4 L363 877.8 L363.9 878.2 L364.8 878.6 L365.7 879.1 L366.6 879.5 L367.5 880 L368.3 880.5 L369.2 881 L370.1 881.5 L370.9 882.1 L371.8 882.6 L372.6 883.2 L373.4 883.8 L374.2 884.4 L375.1 885 L375.9 885.6 L376.7 886.3 L377.3 887.1 L377.7 888 L378 889 L378.4 889.9 L378.8 890.8 L379.1 891.8 L379.5 892.7 L379.9 893.6 L380.2 894.6 L380.6 895.5 L381 896.4 L381.4 897.4 L381.7 898.3 L382.1 899.2 L382.5 900.2 L382.9 901.1 L383.3 902 L383.7 902.9 L384 903.9 L384.4 904.8 L384.8 905.7 L385.2 906.6 L385.6 907.6 L386 908.5 L386.4 909.4 L386.8 910.3 L387.2 911.2 L387.6 912.2 L388 913.1 L388.4 914 L388.8 914.9 L389.2 915.8 L389.6 916.7 L390.1 917.7 L390.5 918.6 L390.9 919.5 L391.3 920.4 L392 921.2 L392.7 921.9 L393.4 922.7 L394.2 923.4 L395 924.1 L395.8 924.8 L396.6 925.4 L397.4 926.1 L398.3 926.7 L399.1 927.3 L400 927.8 L400.9 928.3 L401.8 928.8 L402.8 929.3 L403.7 929.7 L404.7 930.1 L405.7 930.5 L406.7 930.8 L407.7 931 L408.7 931.3 L409.7 931.5 L410.8 931.6 L411.8 931.7 L412.6 932.2 L413.4 932.9 L414.1 933.5 L414.8 934.2 L415.6 934.8 L416.3 935.5 L417.1 936.2 L417.8 936.8 L418.6 937.5 L419.3 938.2 L420.1 938.8 L420.9 939.5 L421.6 940.2 L422.4 940.8 L423.2 941.5 L424 942.1 L424.8 942.8 L425.6 943.4 L426.4 944 L427.2 944.6 L428 945.2 L428.9 945.8 L429.7 946.4 L430.6 947 L431.4 947.5 L432.3 948.1 L433.1 948.6 L434 949.1 L434.9 949.5 L435.8 950 L436.7 950.4 L437.6 950.9 L438.5 951.3 L439.4 951.6 L440.3 952 L441.2 952.3 L442.2 952.6 L443.1 952.9 L444.1 953.2 L445 953.4 L446 953.7 L446.9 953.9 L447.9 954.1 L448.9 954.2 L449.8 954.4 L450.8 954.5 L451.8 954.7 L452.8 954.8 L453.8 954.9 L454.8 954.9 L455.8 955 L456.8 955 L457.8 955.1 L458.8 955.1 L459.8 955.1 L460.8 955.1 L461.8 955 L462.8 955 L463.8 955 L464.8 954.9 L465.8 954.8 L466.8 954.7 L467.8 954.7 L468.8 954.5 L469.8 954.4 L470.8 954.3 L471.7 954.2 L472.7 954 L473.7 953.9 L474.7 953.7 L475.7 953.5 L476.7 953.4 L477.7 953.2 L478.7 953 L479.6 952.8 L480.6 952.6 L481.6 952.3 L482.6 952.1 L483.6 951.9 L484.5 951.6 L485.5 951.4 L486.5 951.1 L487.4 950.8 L488.4 950.5 L489.4 950.3 L490.3 950 L491.3 949.7 L492.3 949.4 L493.2 949.1 L494.2 948.8 L495.1 948.4 L496.1 948.1 L497.1 947.8 L498 947.4 L499 947.1 L499.9 946.7 L500.8 946.4 L501.8 946 L502.7 945.7 L503.7 945.3 L504.6 944.9 L505.5 944.6 L506.5 944.2 L507.4 943.8 L508.3 943.4 L509.3 943.1 L510.2 942.7 L511.1 942.3 L512 941.9 L513 941.5 L513.9 941.1 L514.8 940.7 L515.7 940.3 L516.6 939.9 L517.5 939.4 L518.4 939 L519.3 938.6 L520.3 938.2 L521.2 937.8 L522.1 937.3 L523 936.9 L523.9 936.5 L524.8 936.1 L525.7 935.6 L526.5 935.2 L527.4 934.7 L528.3 934.3 L529.2 933.9 L530.1 933.4 L531 933 L531.9 932.5 L532.8 932 L533.6 931.6 L534.5 931.1 L535.4 930.7 L536.3 930.2 L537.2 929.7 L538.1 929.3 L538.9 928.8 L539.8 928.3 L540.7 927.8 L541.6 927.4 L542.4 926.9 L543.3 926.4 L544.2 925.9 L545 925.4 L545.9 924.9 L546.8 924.5 L547.6 924 L548.5 923.5 L549.4 923 L550.2 922.5 L551.1 922 L552 921.5 L552.8 921 L553.7 920.5 L554.6 919.9 L555.4 919.4 L556.3 918.9 L557.2 918.4 L558 917.9 L558.9 917.4 L559.8 916.9 L560.6 916.4 L561.5 915.9 L562.3 915.3 L563.2 914.8 L564.1 914.3 L564.9 913.8 L565.8 913.3 L566.7 912.8 L567.5 912.3 L568.4 911.7 L569.2 911.2 L570.1 910.7 L570.9 910.2 L571.8 909.7 L572.7 909.1 L573.5 908.6 L574.4 908.1 L575.2 907.6 L576.1 907 L576.9 906.5 L577.7 906 L578.6 905.4 L579.4 904.9 L580.3 904.4 L581.1 903.8 L582 903.3 L582.8 902.8 L583.7 902.2 L584.5 901.7 L585.3 901.1 L586.2 900.6 L587 900.1 L587.9 899.5 L588.7 899 L589.5 898.4 L590.4 897.9 L591.2 897.4 L592.1 896.8 L592.9 896.3 L593.8 895.8 L594.6 895.2 L595.4 894.7 L596.3 894.1 L597.1 893.6 L598 893.1 L598.8 892.5 L599.7 892 L600.5 891.5 L601.3 890.9 L602.2 890.4 L603 889.8 L603.9 889.3 L604.7 888.8 L605.6 888.2 L606.4 887.7 L607.3 887.2 L608.1 886.6 L609 886.1 L609.8 885.6 L610.6 885 L611.5 884.5 L612.3 884 L613.2 883.4 L614 882.9 L614.9 882.4 L615.7 881.8 L616.6 881.3 L617.4 880.8 L618.3 880.2 L619.1 879.7 L620 879.2 L620.8 878.6 L621.7 878.1 L622.5 877.6 L623.4 877 L624.2 876.5 L625 876 L625.9 875.5 L626.7 874.9 L627.6 874.4 L628.4 873.9 L629.3 873.3 L630.1 872.8 L631 872.3 L631.8 871.7 L632.7 871.2 L633.5 870.7 L634.4 870.1 L635.2 869.6 L636.1 869.1 L636.9 868.6 L637.8 868 L638.6 867.5 L639.5 867 L640.3 866.4 L641.2 865.9 L642 865.4 L642.9 864.8 L643.7 864.3 L644.6 863.8 L645.4 863.3 L646.3 862.7 L647.1 862.2 L648 861.7 L648.8 861.1 L649.7 860.6 L650.5 860.1 L651.4 859.6 L652.2 859 L653.1 858.5 L653.9 858 L654.8 857.4 L655.6 856.9 L656.5 856.4 L657.3 855.8 L658.2 855.3 L659 854.8 L659.9 854.3 L660.7 853.7 L661.6 853.2 L662.4 852.7 L663.3 852.1 L664.1 851.6 L665 851.1 L665.8 850.6 L666.7 850 L667.5 849.5 L668.4 849 L669.2 848.4 L670.1 847.9 L670.9 847.4 L671.8 846.8 L672.6 846.3 L673.5 845.8 L674.3 845.3 L675.2 844.7 L676 844.2 L676.9 843.7 L677.7 843.1 L678.6 842.6 L679.4 842.1 L680.3 841.5 L681.1 841 L682 840.5 L682.8 840 L683.7 839.4 L684.5 838.9 L685.4 838.4 L686.2 837.8 L687.1 837.3 L687.9 836.8 L688.8 836.2 L689.6 835.7 L690.5 835.2 L691.3 834.6 L692.2 834.1 L693 833.6 L693.9 833 L694.7 832.5 L695.5 832 L696.4 831.4 L697.2 830.9 L698.1 830.4 L698.9 829.8 L699.8 829.3 L700.6 828.8 L701.5 828.2 L702.3 827.7 L703.2 827.2 L704 826.6 L704.9 826.1 L705.7 825.6 L706.6 825 L707.4 824.5 L708.3 824 L709.1 823.4 L709.9 822.9 L710.8 822.4 L711.6 821.8 L712.5 821.3 L713.3 820.8 L714.2 820.2 L715 819.7 L715.9 819.1 L716.7 818.6 L717.6 818.1 L718.4 817.5 L719.3 817 L720.1 816.5 L720.9 815.9 L721.8 815.4 L722.6 814.9 L723.5 814.3 L724.3 813.8 L725.2 813.2 L726 812.7 L726.9 812.2 L727.7 811.6 L728.5 811.1 L729.4 810.6 L730.2 810 L731.1 809.5 L731.9 808.9 L732.8 808.4 L733.6 807.9 L734.5 807.3 L735.3 806.8 L736.1 806.2 L737 805.7 L737.8 805.2 L738.7 804.6 L739.5 804.1 L740.4 803.5 L741.2 803 L742 802.5 L742.9 801.9 L743.7 801.4 L744.6 800.8 L745.4 800.3 L746.3 799.8 L747.1 799.2 L747.9 798.7 L748.8 798.1 L749.6 797.6 L750.5 797.1 L751.3 796.5 L752.2 796 L753 795.4 L753.8 794.9 L754.7 794.3 L755.5 793.8 L756.4 793.3 L757.2 792.7 L758 792.2 L758.9 791.6 L759.7 791.1 L760.6 790.5 L761.4 790 L762.3 789.5 L763.1 788.9 L763.9 788.4 L764.8 787.8 L765.6 787.3 L766.5 786.7 L767.3 786.2 L768.1 785.7 L769 785.1 L769.8 784.6 L770.7 784 L771.5 783.5 L772.3 782.9 L773.2 782.4 L774 781.8 L774.9 781.3 L775.7 780.7 L776.5 780.2 L777.4 779.7 L778.2 779.1 L779 778.6 L779.9 778 L780.7 777.5 L781.6 776.9 L782.4 776.4 L783.2 775.8 L784.1 775.3 L784.9 774.7 L785.8 774.2 L786.6 773.6 L787.4 773.1 L788.3 772.5 L789.1 772 L789.9 771.4 L790.8 770.9 L791.6 770.3 L792.5 769.8 L793.3 769.3 L794.1 768.7 L795 768.2 L795.8 767.6 L796.6 767.1 L797.5 766.5 L798.3 766 L799.2 765.4 L800 764.9 L800.8 764.3 L801.7 763.8 L802.5 763.2 L803.3 762.7 L804.2 762.1 L805 761.6 L805.8 761 L806.7 760.4 L807.5 759.9 L808.4 759.3 L809.2 758.8 L810 758.2 L810.9 757.7 L811.7 757.1 L812.5 756.6 L813.4 756 L814.2 755.5 L815 754.9 L815.9 754.4 L816.7 753.8 L817.5 753.3 L818.4 752.7 L819.2 752.2 L820 751.6 L820.9 751 L821.7 750.5 L822.5 749.9 L823.4 749.4 L824.2 748.8 L825 748.2" fill="none" stroke="#ed1c24" stroke-width="2.9" stroke-linejoin="round" stroke-linecap="round" clip-path="url(#c2)"/>
<path d="M227.1 937.4 L228.1 937.4 L229.1 937.4 L230.1 937.4 L231.1 937.4 L232.1 937.4 L233.2 937.4 L234.2 937.4 L235.2 937.4 L236.2 937.4 L236.4 937.4 M250.2 937.4 L250.3 937.4 L251.3 937.4 L252.3 937.4 L253.3 937.4 L254.3 937.4 L255.3 937.4 L256.3 937.4 L257.4 937.4 L258.4 937.4 L259.4 937.4 L259.4 937.4 M273.2 937.4 L273.5 937.4 L274.5 937.4 L275.5 937.4 L276.5 937.4 L277.5 937.4 L278.5 937.4 L279.5 937.4 L280.5 937.4 L281.6 937.4 L282.5 937.4 M296.2 937.4 L296.7 937.4 L297.7 937.4 L298.7 937.4 L299.7 937.4 L300.7 937.4 L301.7 937.4 L302.7 937.4 L303.7 937.4 L304.7 937.4 L305.6 937.4 M319.3 937.4 L319.9 937.4 L320.9 937.4 L321.9 937.4 L322.9 937.4 L323.9 937.4 L324.9 937.4 L325.9 937.4 L326.9 937.4 L327.9 937.4 L328.6 937.4 M342.4 937.4 L343 937.3 L344 937.3 L345 937.3 L346 937.3 L347 937.3 L348 937.3 L349 937.3 L350 937.2 L351 937.2 L351.6 937.2 M365.4 936.9 L366 936.9 L367 936.9 L368 936.8 L369 936.8 L370 936.8 L371 936.7 L372 936.7 L373 936.7 L374 936.6 L374.7 936.6 M388.5 936.1 L388.9 936.1 L389.9 936.1 L390.9 936 L391.9 936 L392.9 935.9 L393.9 935.9 L394.9 935.9 L395.9 935.8 L396.9 935.8 L397.8 935.7 M411.5 935.1 L411.9 935.1 L412.9 935 L413.9 935 L414.9 934.9 L415.9 934.9 L416.9 934.8 L417.9 934.8 L418.9 934.7 L419.9 934.7 L420.8 934.6 M434.6 933.7 L435 933.7 L436 933.6 L437 933.5 L438 933.4 L439 933.3 L440 933.2 L441 933.1 L442 933 L443 932.9 L443.9 932.8 M457.6 931 L457.9 930.9 L458.9 930.8 L459.9 930.6 L460.8 930.4 L461.8 930.2 L462.8 930.1 L463.8 929.9 L464.8 929.7 L465.8 929.5 L466.7 929.3 L466.9 929.3 M480.7 926 L481.3 925.9 L482.3 925.6 L483.2 925.3 L484.2 925.1 L485.1 924.8 L486.1 924.5 L487 924.2 L488 924 L489 923.7 L489.9 923.4 L490 923.4 M503.7 918.8 L504.1 918.6 L505 918.3 L506 917.9 L506.9 917.6 L507.8 917.2 L508.7 916.9 L509.7 916.5 L510.6 916.1 L511.5 915.8 L512.5 915.4 L513 915.2 M526.8 909.2 L527.1 909 L528 908.6 L528.9 908.2 L529.8 907.8 L530.7 907.3 L531.6 906.9 L532.5 906.4 L533.4 906 L534.3 905.6 L535.2 905.1 L536.1 904.7 M549.8 897.4 L550.2 897.1 L551.1 896.6 L552 896.1 L552.9 895.6 L553.7 895.1 L554.6 894.6 L555.5 894.1 L556.3 893.6 L557.2 893.1 L558 892.6 L558.9 892.1 L559.1 892 M572.9 883.3 L573.3 883 L574.1 882.5 L574.9 881.9 L575.8 881.3 L576.6 880.8 L577.4 880.2 L578.3 879.7 L579.1 879.1 L579.9 878.5 L580.7 878 L581.6 877.4 L582.2 877 M595.9 867.1 L596.2 866.9 L597 866.3 L597.8 865.7 L598.6 865.1 L599.4 864.5 L600.2 863.9 L601 863.3 L601.8 862.7 L602.6 862.1 L603.3 861.5 L604.1 860.9 L604.9 860.3 L605.2 860.1 M619 849.4 L619.1 849.2 L619.9 848.6 L620.7 848 L621.5 847.4 L622.3 846.7 L623.1 846.1 L623.8 845.5 L624.6 844.9 L625.4 844.3 L626.2 843.6 L627 843 L627.8 842.4 L628.3 842 M642 831 L642.6 830.5 L643.4 829.9 L644.2 829.3 L645 828.7 L645.7 828 L646.5 827.4 L647.3 826.8 L648.1 826.2 L648.9 825.6 L649.7 824.9 L650.5 824.3 L651.2 823.7 L651.3 823.7 M665.1 813 L665.5 812.7 L666.3 812.1 L667.1 811.5 L667.9 810.9 L668.7 810.3 L669.5 809.7 L670.3 809.1 L671.1 808.5 L671.9 807.9 L672.7 807.3 L673.5 806.7 L674.3 806.1 L674.4 806.1 M688.1 796.4 L688.2 796.3 L689 795.8 L689.8 795.2 L690.6 794.6 L691.5 794.1 L692.3 793.5 L693.1 793 L694 792.4 L694.8 791.9 L695.6 791.3 L696.5 790.8 L697.3 790.2 L697.4 790.1 M711.2 781.3 L711.6 781 L712.5 780.5 L713.3 780 L714.2 779.5 L715 778.9 L715.9 778.4 L716.7 777.9 L717.6 777.3 L718.4 776.8 L719.3 776.3 L720.1 775.8 L720.5 775.6 M734.2 767.2 L734.7 766.9 L735.5 766.4 L736.4 765.9 L737.2 765.4 L738.1 764.8 L739 764.3 L739.8 763.8 L740.7 763.3 L741.5 762.8 L742.4 762.2 L743.2 761.7 L743.5 761.6 M757.3 753.2 L757.8 752.8 L758.6 752.3 L759.5 751.8 L760.3 751.3 L761.2 750.7 L762 750.2 L762.9 749.7 L763.7 749.1 L764.6 748.6 L765.4 748.1 L766.3 747.5 L766.6 747.4 M780.3 738.5 L780.5 738.3 L781.4 737.8 L782.2 737.2 L783 736.6 L783.9 736.1 L784.7 735.5 L785.5 735 L786.3 734.4 L787.2 733.8 L788 733.3 L788.8 732.7 L789.6 732.2 M803.4 722.5 L803.5 722.4 L804.3 721.8 L805.2 721.2 L806 720.6 L806.8 720.1 L807.6 719.5 L808.4 718.9 L809.2 718.3 L810.1 717.8 L810.9 717.2 L811.7 716.6 L812.5 716 L812.6 715.9" fill="none" stroke="#2e3192" stroke-width="2.9" stroke-linejoin="round" stroke-linecap="round" clip-path="url(#c2)"/>
<path d="M227.1 831.5 L228.1 831.5 L229.1 831.5 L230.1 831.5 L231.1 831.5 L232.1 831.5 L233.1 831.5 L234.2 831.5 L235.2 831.5 L236.2 831.5 L237.2 831.5 L238.2 831.5 L239.2 831.5 L240.2 831.5 L241.2 831.5 L242.2 831.5 L243.2 831.5 L244.2 831.5 L245.2 831.5 L246.3 831.5 L247.3 831.5 L248.3 831.5 L249.3 831.5 L250.3 831.5 L251.3 831.5 L252.3 831.5 L253.3 831.5 L254.3 831.5 L255.3 831.5 L256.3 831.5 L257.3 831.5 L258.3 831.5 L259.4 831.5 L260.4 831.5 L261.4 831.5 L262.4 831.5 L263.4 831.5 L264.4 831.5 L265.4 831.5 L266.4 831.5 L267.4 831.5 L268.4 831.5 L269.4 831.5 L270.4 831.5 L271.5 831.5 L272.5 831.5 L273.5 831.5 L274.5 831.5 L275.5 831.5 L276.5 831.5 L277.5 831.5 L278.5 831.5 L279.5 831.5 L280.5 831.5 L281.5 831.5 L282.5 831.5 L283.6 831.5 L284.6 831.5 L285.6 831.5 L286.6 831.5 L287.6 831.5 L288.6 831.5 L289.6 831.5 L290.6 831.5 L291.6 831.5 L292.6 831.5 L293.6 831.5 L294.6 831.5 L295.6 831.5 L296.7 831.5 L297.7 831.5 L298.7 831.5 L299.7 831.5 L300.7 831.5 L301.7 831.5 L302.7 831.5 L303.7 831.5 L304.7 831.5 L305.7 831.5 L306.7 831.5 L307.7 831.5 L308.8 831.5 L309.8 831.5 L310.8 831.5 L311.8 831.5 L312.8 831.5 L313.8 831.5 L314.8 831.5 L315.8 831.5 L316.8 831.5 L317.8 831.5 L318.8 831.5 L319.8 831.5 L320.8 831.5 L321.9 831.5 L322.9 831.5 L323.9 831.5 L324.9 831.5 L325.9 831.5 L326.9 831.5 L327.9 831.5 L328.9 831.5 L329.9 831.5 L330.9 831.5 L331.9 831.5 L332.9 831.5 L334 831.5 L335 831.5 L336 831.5 L337 831.5 L338 831.5 L339 831.5 L340 831.5 L341 831.4 L342 831.5 L343 831.5 L344 831.6 L345 831.6 L346 831.6 L347 831.7 L348 831.7 L349 831.7 L350 831.8 L351 831.8 L352 831.8 L353 831.8 L354 831.8 L355 831.8 L356 831.8 L357 831.8 L358 831.8 L359 831.9 L360 831.9 L361 831.9 L362 831.9 L363 831.9 L364 831.8 L365 831.8 L366 831.8 L367 831.8 L368 831.8 L369.1 831.8 L370.1 831.8 L371.1 831.8 L372.1 831.8 L373.1 831.8 L374.1 831.8 L375.1 831.8 L376.2 831.8 L377.2 831.8 L378.2 831.8 L379.2 831.8 L380.2 831.8 L381.2 831.8 L382.2 831.8 L383.3 831.8 L384.3 831.8 L385.3 831.8 L386.3 831.8 L387.3 831.8 L388.3 831.8 L389.3 831.8 L390.4 831.9 L391.4 831.9 L392.4 831.9 L393.4 831.9 L394.4 832 L395.4 832 L396.4 832 L397.4 832.1 L398.4 832.1 L399.5 832.2 L400.5 832.2 L401.5 832.3 L402.5 832.3 L403.5 832.4 L404.5 832.5 L405.5 832.5 L406.5 832.6 L407.5 832.7 L408.5 832.8 L409.5 832.8 L410.5 832.9 L411.5 833 L412.5 833.1 L413.5 833.3 L414.5 833.4 L415.5 833.5 L416.5 833.6 L417.5 833.8 L418.5 833.9 L419.5 834 L420.4 834.2 L421.4 834.3 L422.4 834.5 L423.4 834.7 L424.4 834.9 L425.4 835 L426.3 835.2 L427.3 835.4 L428.3 835.6 L429.3 835.9 L430.2 836.1 L431.2 836.3 L432.2 836.5 L433.1 836.8 L434.1 837 L435.1 837.3 L436 837.6 L437 837.8 L437.9 838.1 L438.9 838.4 L439.8 838.7 L440.8 839.1 L441.7 839.4 L442.7 839.7 L443.6 840 L444.6 840.4 L445.5 840.8 L446.4 841.1 L447.4 841.5 L448.3 841.9 L449.2 842.3 L450.2 842.7 L451.1 843.1 L452 843.6 L452.9 844 L453.8 844.5 L454.8 844.9 L455.7 845.4 L456.4 846.1 L457.1 846.9 L457.7 847.6 L458.4 848.3 L459 849 L459.7 849.8 L460.3 850.5 L461 851.2 L461.7 851.9 L462.3 852.7 L463 853.4 L463.6 854.1 L464.3 854.9 L465 855.6 L465.6 856.4 L466.3 857.1 L467 857.9 L467.6 858.6 L468.3 859.3 L469 860.1 L469.7 860.8 L470.4 861.6 L471 862.3 L471.7 863 L472.4 863.8 L473.1 864.5 L473.8 865.2 L474.5 866 L475.3 866.7 L476 867.4 L476.7 868.1 L477.4 868.8 L478.2 869.5 L478.9 870.2 L479.6 870.9 L480.4 871.6 L481.2 872.3 L481.9 873 L482.7 873.6 L483.5 874.3 L484.2 875 L485 875.6 L485.8 876.2 L486.6 876.9 L487.4 877.5 L488.3 878.1 L489.1 878.7 L489.9 879.3 L490.7 879.8 L491.6 880.4 L492.4 881 L493.3 881.5 L494.1 882 L495 882.5 L495.9 883 L496.7 883.5 L497.6 884 L498.5 884.5 L499.4 884.9 L500.3 885.3 L501.2 885.8 L502.1 886.2 L503 886.6 L503.9 886.9 L504.8 887.3 L505.7 887.6 L506.7 887.9 L507.6 888.2 L508.5 888.5 L509.5 888.8 L510.4 889 L511.4 889.3 L512.3 889.5 L513.3 889.7 L514.2 889.8 L515.2 890 L516.1 890.1 L517.1 890.2 L518.1 890.3 L519 890.4 L520 890.5 L521 890.5 L522 890.5 L522.9 890.6 L523.9 890.6 L524.9 890.5 L525.9 890.5 L526.9 890.4 L527.9 890.4 L528.9 890.3 L529.8 890.2 L530.8 890.1 L531.8 890 L532.8 889.8 L533.8 889.7 L534.8 889.5 L535.8 889.4 L536.8 889.2 L537.8 889 L538.8 888.8 L539.7 888.5 L540.7 888.3 L541.7 888.1 L542.7 887.8 L543.7 887.5 L544.7 887.3 L545.6 887 L546.6 886.7 L547.6 886.4 L548.6 886.1 L549.5 885.8 L550.5 885.4 L551.5 885.1 L552.4 884.8 L553.4 884.4 L554.4 884 L555.3 883.7 L556.3 883.3 L557.2 882.9 L558.2 882.6 L559.1 882.2 L560 881.8 L561 881.4 L561.9 881 L562.8 880.6 L563.7 880.2 L564.6 879.7 L565.6 879.3 L566.5 878.9 L567.4 878.5 L568.3 878 L569.2 877.6 L570 877.1 L570.9 876.7 L571.8 876.2 L572.7 875.8 L573.6 875.3 L574.4 874.8 L575.3 874.4 L576.2 873.9 L577 873.4 L577.9 872.9 L578.8 872.4 L579.6 871.9 L580.5 871.4 L581.3 870.9 L582.1 870.4 L583 869.9 L583.8 869.4 L584.7 868.8 L585.5 868.3 L586.3 867.8 L587.1 867.2 L588 866.7 L588.8 866.1 L589.6 865.6 L590.4 865 L591.2 864.4 L592.1 863.9 L592.9 863.3 L593.7 862.7 L594.5 862.1 L595.3 861.5 L596.1 861 L596.9 860.4 L597.7 859.8 L598.5 859.2 L599.3 858.6 L600.1 858 L600.9 857.4 L601.7 856.8 L602.5 856.2 L603.3 855.5 L604.1 854.9 L604.9 854.3 L605.6 853.7 L606.4 853.1 L607.2 852.5 L608 851.9 L608.8 851.3 L609.6 850.7 L610.4 850.1 L611.2 849.5 L612 848.9 L612.8 848.3 L613.6 847.7 L614.4 847.1 L615.2 846.5 L616 845.9 L616.8 845.3 L617.6 844.7 L618.5 844.1 L619.3 843.5 L620.1 842.9 L620.9 842.3 L621.7 841.7 L622.5 841.1 L623.3 840.6 L624.1 840 L624.9 839.4 L625.8 838.8 L626.6 838.2 L627.4 837.6 L628.2 837.1 L629 836.5 L629.8 835.9 L630.7 835.3 L631.5 834.8 L632.3 834.2 L633.1 833.6 L633.9 833.1 L634.8 832.5 L635.6 831.9 L636.4 831.4 L637.2 830.8 L638.1 830.2 L638.9 829.7 L639.7 829.1 L640.5 828.5 L641.4 828 L642.2 827.4 L643 826.9 L643.9 826.3 L644.7 825.7 L645.5 825.2 L646.4 824.6 L647.2 824.1 L648 823.5 L648.9 823 L649.7 822.4 L650.5 821.9 L651.4 821.3 L652.2 820.8 L653 820.2 L653.9 819.7 L654.7 819.1 L655.5 818.6 L656.4 818 L657.2 817.5 L658 816.9 L658.9 816.4 L659.7 815.8 L660.6 815.3 L661.4 814.7 L662.2 814.2 L663.1 813.7 L663.9 813.1 L664.8 812.6 L665.6 812 L666.4 811.5 L667.3 810.9 L668.1 810.4 L669 809.9 L669.8 809.3 L670.7 808.8 L671.5 808.2 L672.3 807.7 L673.2 807.2 L674 806.6 L674.9 806.1 L675.7 805.6 L676.6 805 L677.4 804.5 L678.2 803.9 L679.1 803.4 L679.9 802.9 L680.8 802.3 L681.6 801.8 L682.5 801.3 L683.3 800.7 L684.2 800.2 L685 799.7 L685.9 799.1 L686.7 798.6 L687.5 798.1 L688.4 797.5 L689.2 797 L690.1 796.4 L690.9 795.9 L691.8 795.4 L692.6 794.8 L693.5 794.3 L694.3 793.8 L695.1 793.2 L696 792.7 L696.8 792.2 L697.7 791.6 L698.5 791.1 L699.4 790.6 L700.2 790 L701.1 789.5 L701.9 789 L702.8 788.4 L703.6 787.9 L704.4 787.4 L705.3 786.8 L706.1 786.3 L707 785.8 L707.8 785.2 L708.7 784.7 L709.5 784.1 L710.4 783.6 L711.2 783.1 L712.1 782.5 L712.9 782 L713.7 781.5 L714.6 780.9 L715.4 780.4 L716.3 779.9 L717.1 779.3 L718 778.8 L718.8 778.3 L719.7 777.7 L720.5 777.2 L721.3 776.7 L722.2 776.1 L723 775.6 L723.9 775.1 L724.7 774.5 L725.6 774 L726.4 773.4 L727.3 772.9 L728.1 772.4 L728.9 771.8 L729.8 771.3 L730.6 770.8 L731.5 770.2 L732.3 769.7 L733.2 769.2 L734 768.6 L734.9 768.1 L735.7 767.5 L736.5 767 L737.4 766.5 L738.2 765.9 L739.1 765.4 L739.9 764.9 L740.8 764.3 L741.6 763.8 L742.4 763.2 L743.3 762.7 L744.1 762.2 L745 761.6 L745.8 761.1 L746.7 760.5 L747.5 760 L748.3 759.5 L749.2 758.9 L750 758.4 L750.9 757.8 L751.7 757.3 L752.5 756.8 L753.4 756.2 L754.2 755.7 L755.1 755.1 L755.9 754.6 L756.7 754.1 L757.6 753.5 L758.4 753 L759.3 752.4 L760.1 751.9 L760.9 751.3 L761.8 750.8 L762.6 750.3 L763.5 749.7 L764.3 749.2 L765.1 748.6 L766 748.1 L766.8 747.5 L767.7 747 L768.5 746.5 L769.3 745.9 L770.2 745.4 L771 744.8 L771.9 744.3 L772.7 743.7 L773.5 743.2 L774.4 742.6 L775.2 742.1 L776 741.5 L776.9 741 L777.7 740.4 L778.5 739.9 L779.4 739.3 L780.2 738.8 L781.1 738.2 L781.9 737.7 L782.7 737.1 L783.6 736.6 L784.4 736 L785.2 735.5 L786.1 734.9 L786.9 734.4 L787.7 733.8 L788.6 733.3 L789.4 732.7 L790.2 732.2 L791.1 731.6 L791.9 731.1 L792.7 730.5 L793.6 730 L794.4 729.4 L795.2 728.8 L796 728.3 L796.9 727.7 L797.7 727.2 L798.5 726.6 L799.4 726.1 L800.2 725.5 L801 724.9 L801.9 724.4 L802.7 723.8 L803.5 723.3 L804.3 722.7 L805.2 722.1 L806 721.6 L806.8 721 L807.7 720.5 L808.5 719.9 L809.3 719.3 L810.1 718.8 L811 718.2 L811.8 717.6 L812.6 717.1 L813.4 716.5 L814.3 715.9 L815.1 715.4 L815.9 714.8 L816.7 714.2 L817.6 713.7 L818.4 713.1 L819.2 712.5 L820 712 L820.9 711.4 L821.7 710.8 L822.5 710.3 L823.3 709.7 L824.1 709.1 L825 708.6" fill="none" stroke="#ed1c24" stroke-width="2.9" stroke-linejoin="round" stroke-linecap="round" clip-path="url(#c2)"/>
<path d="M227.1 915.9 L228.1 915.8 L229.1 915.8 L230.1 915.8 L231.1 915.8 L232.1 915.9 L233.2 915.9 L234.2 916 L235.2 916.1 L236.2 916.2 L237.2 916.3 L238.1 916.5 L238.5 916.5 M246.3 918.4 L247 918.6 L247.9 918.9 L248.2 919 M256.4 922.4 L257.2 922.8 L258.1 923.2 L259 923.7 L259.9 924.2 L260.8 924.7 L261.6 925.3 L262.5 925.8 L263.3 926.3 L264.2 926.9 L265 927.5 L265.8 928.1 L266.7 928.7 L267.5 929.3 L267.8 929.5 M275.6 936.6 L275.7 936.7 L276.4 937.4 L277 938.2 L277.3 938.5 M283 946.7 L283.2 947.3 L283.5 948.3 L283.8 949.3 L284.1 950.2 L284.4 951.2 L284.6 952.2 L284.9 953.2 L285.1 954.2 L285.3 955.2 L285.5 956.1 L285.7 957.1 L285.9 958.1 M287.2 965.9 L287.2 966.2 L287.4 967.2 L287.4 967.8 M288.6 976 L288.6 976.2 L288.8 977.2 L288.9 978.2 L289.1 979.2 L289.2 980.2 L289.4 981.2 L289.6 982.2 L289.8 983.2 L290 984.2 L290.2 985.2 L290.4 986.2 L290.7 987.2 L290.7 987.4 M296.6 994.9 L297 995.1 L297.8 995.7 L298.5 996.1 M306.7 999.5 L307.5 999.7 L308.5 999.9 L309.5 1000.1 L310.5 1000.3 L311.5 1000.5 L312.5 1000.6 L313.4 1001.1 L314.2 1001.7 L315 1002.4 L315.7 1003 L316.5 1003.7 L317.2 1004.4 L317.9 1005.1 L318.1 1005.3 M324.9 1013.1 L325 1013.3 L325.7 1014.1 L326.3 1014.8 L326.5 1015 M334.1 1023.1 L334.6 1023.6 L335.4 1024.2 L336.2 1024.9 L336.9 1025.5 L337.7 1026.1 L338.5 1026.8 L339.4 1027.4 L340.2 1027.9 L341 1028.5 L341.9 1029 L342.8 1029.6 L343.7 1030.1 L344.5 1030.6 L345.4 1031 L345.5 1031.1 M353.4 1033.9 L353.9 1034 L354.9 1034.2 L355.3 1034.3 M363.4 1034.7 L363.7 1034.7 L364.7 1034.6 L365.7 1034.5 L366.7 1034.4 L367.6 1034.3 L368.6 1034.2 L369.6 1034.1 L370.6 1033.9 L371.6 1033.8 L372.6 1033.6 L373.6 1033.5 L374.6 1033.3 L374.8 1033.2 M382.7 1031.8 L383.5 1031.6 L384.5 1031.4 L384.6 1031.4 M392.7 1029.6 L393.3 1029.4 L394.3 1029.2 L395.3 1028.9 L396.2 1028.7 L397.2 1028.5 L398.2 1028.2 L399.1 1028 L400.1 1027.7 L401.1 1027.4 L402.1 1027.2 L403 1026.9 L404 1026.7 L404.1 1026.6 M412 1024.3 L412.6 1024.1 L413.6 1023.8 L413.9 1023.8 M422 1021.1 L422.2 1021.1 L423.1 1020.8 L424 1020.4 L425 1020.1 L425.9 1019.8 L426.9 1019.4 L427.8 1019.1 L428.8 1018.8 L429.7 1018.4 L430.6 1018.1 L431.6 1017.7 L432.5 1017.4 L433.4 1017.1 M441.3 1014 L441.9 1013.8 L442.8 1013.4 L443.2 1013.3 M451.3 1009.9 L452 1009.6 L452.9 1009.2 L453.8 1008.8 L454.8 1008.4 L455.7 1008 L456.6 1007.5 L457.5 1007.1 L458.4 1006.7 L459.3 1006.3 L460.3 1005.9 L461.2 1005.5 L462.1 1005.1 L462.7 1004.8 M470.6 1001.1 L471.1 1000.8 L472.1 1000.4 L472.5 1000.2 M480.6 996.2 L481.1 996 L482 995.6 L482.9 995.1 L483.8 994.7 L484.7 994.2 L485.6 993.8 L486.5 993.3 L487.4 992.9 L488.2 992.4 L489.1 992 L490 991.5 L490.9 991.1 L491.8 990.6 L492 990.6 M499.9 986.6 L499.9 986.6 L500.8 986.1 L501.7 985.7 L501.8 985.6 M509.9 981.5 L510.6 981.1 L511.5 980.7 L512.4 980.2 L513.2 979.8 L514.1 979.3 L515 978.8 L515.9 978.4 L516.8 977.9 L517.7 977.4 L518.6 977 L519.5 976.5 L520.3 976.1 L521.2 975.6 L521.3 975.5 M529.2 971.4 L529.2 971.4 L530.1 970.9 L530.9 970.4 L531.1 970.3 M539.2 965.9 L539.7 965.6 L540.6 965.1 L541.5 964.6 L542.3 964.1 L543.2 963.6 L544.1 963.1 L545 962.7 L545.8 962.2 L546.7 961.7 L547.6 961.2 L548.4 960.7 L549.3 960.2 L550.2 959.7 L550.6 959.4 M558.5 954.8 L558.8 954.6 L559.7 954.1 L560.4 953.6 M568.5 948.6 L569.1 948.3 L569.9 947.8 L570.8 947.3 L571.6 946.7 L572.5 946.2 L573.3 945.7 L574.2 945.1 L575 944.6 L575.9 944.1 L576.7 943.6 L577.6 943 L578.4 942.5 L579.3 942 L579.9 941.6 M587.8 936.8 L587.8 936.8 L588.6 936.2 L589.5 935.7 L589.7 935.6 M597.8 930.8 L598.1 930.6 L599 930.1 L599.8 929.6 L600.7 929.1 L601.6 928.6 L602.4 928.1 L603.3 927.6 L604.2 927.1 L605 926.6 L605.9 926.1 L606.8 925.5 L607.6 925 L608.5 924.5 L609.2 924.1 M617.1 919.5 L617.1 919.5 L618 919 L618.9 918.5 L619 918.4 M627.1 913.6 L627.5 913.4 L628.3 912.8 L629.2 912.3 L630 911.8 L630.9 911.3 L631.8 910.8 L632.6 910.3 L633.5 909.8 L634.3 909.2 L635.2 908.7 L636.1 908.2 L636.9 907.7 L637.8 907.2 L638.5 906.7 M646.4 902 L647.2 901.5 L648 900.9 L648.3 900.8 M656.4 895.8 L656.6 895.7 L657.4 895.2 L658.3 894.7 L659.1 894.1 L660 893.6 L660.8 893.1 L661.7 892.5 L662.5 892 L663.4 891.5 L664.2 891 L665.1 890.4 L665.9 889.9 L666.8 889.4 L667.6 888.9 L667.8 888.7 M675.7 883.8 L676.1 883.6 L677 883 L677.6 882.7 M685.7 877.5 L686.3 877.2 L687.2 876.6 L688 876.1 L688.9 875.6 L689.7 875 L690.6 874.5 L691.4 874 L692.2 873.4 L693.1 872.9 L693.9 872.4 L694.8 871.8 L695.6 871.3 L696.5 870.7 L697.1 870.3 M705 865.4 L705.8 864.8 L706.6 864.3 L706.9 864.1 M715 859 L715.1 858.9 L715.9 858.4 L716.8 857.8 L717.6 857.3 L718.4 856.8 L719.3 856.2 L720.1 855.7 L721 855.2 L721.8 854.6 L722.7 854.1 L723.5 853.5 L724.4 853 L725.2 852.5 L726 851.9 L726.4 851.7 M734.3 846.6 L734.5 846.5 L735.3 846 L736.2 845.4 L736.2 845.4 M744.3 840.2 L744.6 840 L745.4 839.5 L746.3 839 L747.1 838.4 L748 837.9 L748.8 837.3 L749.7 836.8 L750.5 836.3 L751.3 835.7 L752.2 835.2 L753 834.6 L753.9 834.1 L754.7 833.6 L755.6 833 L755.7 832.9 M763.6 827.9 L764 827.6 L764.8 827.1 L765.5 826.7 M773.6 821.5 L774.1 821.2 L775 820.6 L775.8 820.1 L776.7 819.6 L777.5 819 L778.4 818.5 L779.2 818 L780.1 817.4 L780.9 816.9 L781.7 816.4 L782.6 815.8 L783.4 815.3 L784.3 814.7 L785 814.3 M792.9 809.3 L793.6 808.9 L794.5 808.3 L794.8 808.1 M802.9 803 L802.9 803 L803.8 802.5 L804.6 802 L805.5 801.4 L806.3 800.9 L807.2 800.4 L808 799.8 L808.9 799.3 L809.7 798.8 L810.6 798.2 L811.4 797.7 L812.3 797.2 L813.1 796.7 L814 796.1 L814.3 795.9 M822.2 791.1 L822.5 790.9 L823.4 790.3 L824.1 789.9" fill="none" stroke="#00693c" stroke-width="2.9" stroke-linejoin="round" stroke-linecap="round" clip-path="url(#c2)"/>
<text x="115.5" y="724" font-size="38">10<tspan font-size="23.3" dx="-0.5" dy="-21.7">8</tspan></text>
<text x="115.5" y="866.5" font-size="38">10<tspan font-size="23.3" dx="-0.5" dy="-21.7">7</tspan></text>
<text x="115.5" y="1009" font-size="38">10<tspan font-size="23.3" dx="-0.5" dy="-21.7">6</tspan></text>
<text x="231.7" y="1173.9" font-size="38">10<tspan font-size="23.3" dx="-1.7" dy="-19.7">-6</tspan></text>
<text x="338.5" y="1173.9" font-size="38">10<tspan font-size="23.3" dx="-1.7" dy="-19.7">-4</tspan></text>
<text x="445.2" y="1173.9" font-size="38">10<tspan font-size="23.3" dx="-1.7" dy="-19.7">-2</tspan></text>
<text x="555.4" y="1173.9" font-size="38">10<tspan font-size="23.3" dx="-1.1" dy="-19.7">0</tspan></text>
<text x="662.1" y="1173.9" font-size="38">10<tspan font-size="23.3" dx="-1.1" dy="-19.7">2</tspan></text>
<text x="768.9" y="1173.9" font-size="38">10<tspan font-size="23.3" dx="-1.1" dy="-19.7">4</tspan></text>
<text x="243.5" y="731.5" font-size="34.2" text-anchor="start"  >Pure H</text>
<text x="243.5" y="774.9" font-size="34.2" text-anchor="start"  >log g = 14.3</text>
<text x="271.0" y="1248.8" font-size="40.4" xml:space="preserve">Column density <tspan font-style="italic">m</tspan>  (g cm<tspan font-size="23" dy="-22.5">-2</tspan><tspan dy="22.5"> )</tspan></text>
<g transform="translate(61.3,1015.9) rotate(-90)"><text x="0" y="0" font-size="40.6" xml:space="preserve">Temperature <tspan font-style="italic">T</tspan><tspan x="256.5">(K)</tspan></text></g>
</svg>
</body></html>
